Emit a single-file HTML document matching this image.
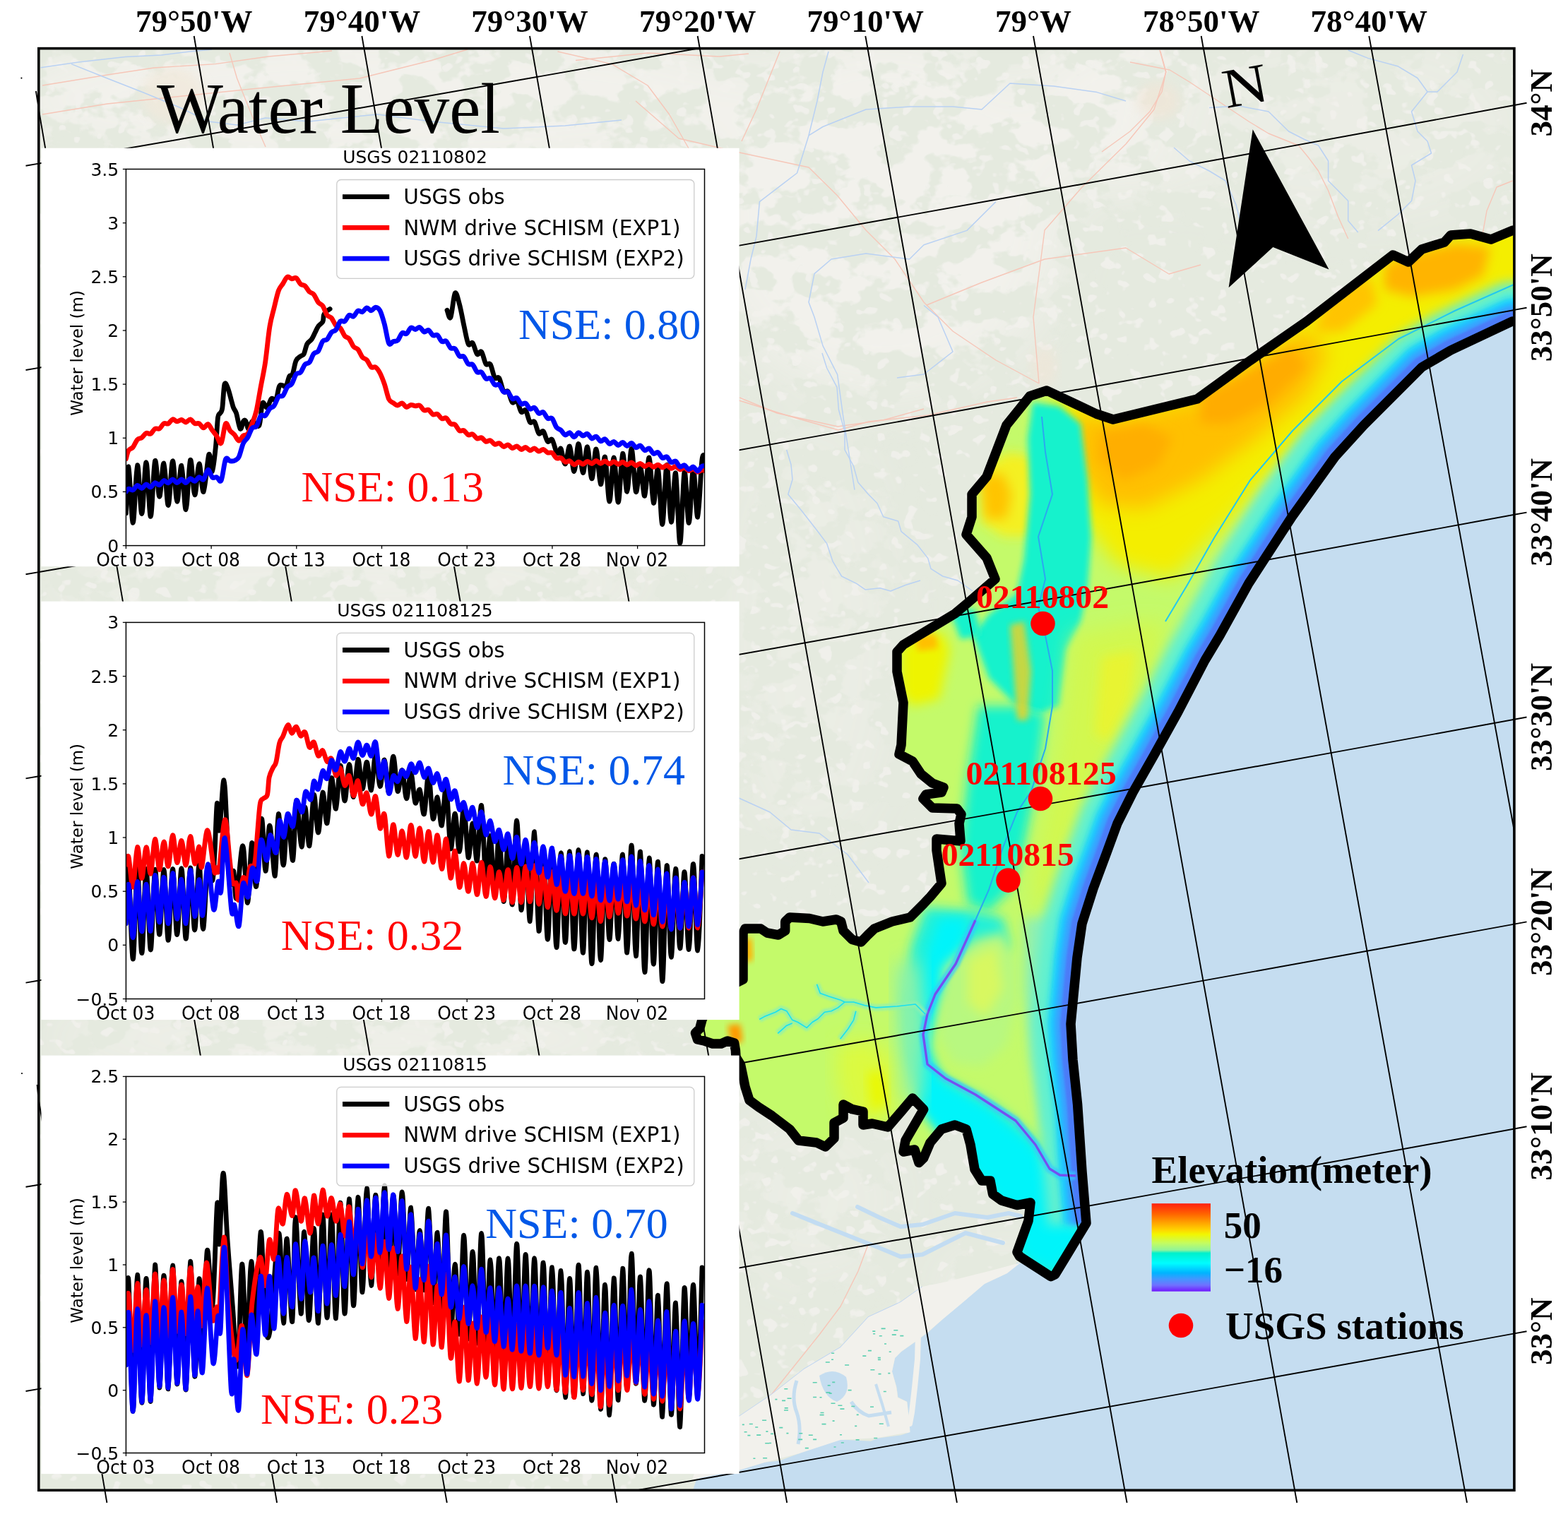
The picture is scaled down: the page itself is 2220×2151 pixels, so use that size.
<!DOCTYPE html>
<html><head><meta charset="utf-8"><title>Water Level</title>
<style>
html,body{margin:0;padding:0;background:#fff;}
svg{display:block;}
.tb{font-family:"Liberation Serif","Times New Roman",serif;font-weight:bold;}
.tr{font-family:"Liberation Serif","Times New Roman",serif;}
.dj{font-family:"DejaVu Sans","Liberation Sans",sans-serif;}
</style></head><body>
<svg xmlns="http://www.w3.org/2000/svg" width="2220" height="2151" viewBox="0 0 2220 2151">
<defs>
<clipPath id="mapclip"><rect x="54.8" y="68.6" width="2089.1" height="2041.7"/></clipPath>
<clipPath id="regclip"><path d="M2165.0 322.0 L2141.0 326.5 L2111.0 339.0 L2082.0 331.0 L2054.0 333.0 L2045.0 343.0 L2013.0 353.0 L1994.0 371.0 L1972.0 361.0 L1850.0 455.0 L1768.0 512.0 L1695.0 565.0 L1576.0 594.0 L1552.0 586.0 L1482.0 553.0 L1458.0 561.0 L1425.0 602.0 L1397.0 675.0 L1376.0 700.0 L1376.0 732.0 L1368.0 757.0 L1397.0 790.0 L1409.0 820.0 L1371.0 853.0 L1352.0 869.0 L1279.0 913.0 L1270.0 923.0 L1270.0 951.0 L1279.0 995.0 L1276.0 1055.0 L1273.0 1068.0 L1292.0 1078.0 L1304.0 1096.0 L1320.0 1109.0 L1336.0 1115.0 L1333.0 1122.0 L1311.0 1125.0 L1307.0 1131.0 L1320.0 1144.0 L1355.0 1145.0 L1361.0 1153.0 L1358.0 1166.0 L1360.0 1191.0 L1349.0 1190.0 L1326.0 1188.0 L1326.0 1204.0 L1333.0 1251.0 L1317.0 1270.0 L1307.6 1280.0 L1288.6 1299.0 L1263.0 1305.0 L1238.0 1315.0 L1228.6 1324.0 L1219.0 1334.0 L1206.5 1330.6 L1194.0 1318.0 L1190.7 1305.0 L1184.0 1302.0 L1165.0 1305.0 L1146.0 1300.5 L1118.0 1299.0 L1111.7 1305.0 L1111.7 1318.0 L1102.0 1324.0 L1086.0 1321.0 L1077.0 1315.0 L1055.0 1315.0 L1052.0 1321.0 L1052.0 1387.0 L1030.0 1398.0 L1005.0 1420.0 L994.0 1444.0 L990.6 1456.7 L984.5 1462.8 L987.5 1472.0 L996.7 1473.9 L1009.0 1478.0 L1021.0 1478.0 L1030.0 1473.9 L1039.6 1477.0 L1041.4 1487.3 L1042.0 1497.0 L1048.5 1507.5 L1055.0 1539.0 L1061.0 1558.0 L1074.0 1567.6 L1093.0 1580.0 L1118.0 1599.0 L1130.6 1615.0 L1156.0 1618.0 L1168.6 1624.0 L1181.0 1612.0 L1181.0 1590.0 L1194.0 1583.0 L1194.0 1564.0 L1206.5 1570.7 L1222.0 1574.0 L1222.0 1593.0 L1235.0 1591.0 L1257.0 1596.0 L1276.0 1574.0 L1292.0 1555.0 L1307.6 1571.0 L1282.0 1615.0 L1279.0 1631.0 L1295.0 1628.0 L1301.0 1646.6 L1307.6 1640.0 L1317.0 1618.0 L1333.0 1599.0 L1352.0 1593.0 L1368.0 1599.0 L1374.0 1621.0 L1380.0 1656.0 L1390.0 1672.0 L1402.0 1672.0 L1405.6 1691.0 L1418.0 1700.0 L1440.0 1706.6 L1459.0 1703.0 L1456.0 1728.7 L1440.0 1773.0 L1443.5 1779.0 L1487.7 1807.7 L1494.0 1804.6 L1538.0 1732.0 L1532.0 1659.0 L1525.6 1564.0 L1519.0 1501.0 L1516.0 1450.0 L1519.0 1419.0 L1525.0 1356.0 L1532.0 1308.0 L1548.0 1258.0 L1567.0 1207.0 L1582.0 1166.0 L1604.0 1122.0 L1633.0 1071.0 L1668.0 1008.0 L1706.0 935.0 L1727.0 900.0 L1768.0 826.0 L1829.0 732.0 L1890.0 647.0 L1931.0 602.0 L2013.0 520.0 L2054.0 496.0 L2141.0 455.0 L2165.0 458.0 Z"/></clipPath>
<filter id="blur8" x="-20%" y="-20%" width="140%" height="140%"><feGaussianBlur stdDeviation="8"/></filter>
<filter id="blur4" x="-20%" y="-20%" width="140%" height="140%"><feGaussianBlur stdDeviation="4"/></filter>
<filter id="blur14" x="-20%" y="-20%" width="140%" height="140%"><feGaussianBlur stdDeviation="14"/></filter>
<filter id="blur2" x="-20%" y="-20%" width="140%" height="140%"><feGaussianBlur stdDeviation="1.5"/></filter>
<filter id="landtex" x="0" y="0" width="100%" height="100%" color-interpolation-filters="sRGB">
<feTurbulence type="fractalNoise" baseFrequency="0.016 0.022" numOctaves="4" seed="11" result="n"/>
<feColorMatrix in="n" type="matrix" values="0 0 0 0 0.948  0 0 0 0 0.946  0 0 0 0 0.926  0 0 0 14 -6.6" result="c"/>
<feComposite in="c" in2="SourceGraphic" operator="in"/>
</filter>
<filter id="specktex" x="0" y="0" width="100%" height="100%" color-interpolation-filters="sRGB">
<feTurbulence type="fractalNoise" baseFrequency="0.05 0.06" numOctaves="2" seed="5" result="n"/>
<feColorMatrix in="n" type="matrix" values="0 0 0 0 0.94  0 0 0 0 0.94  0 0 0 0 0.92  0 0 0 12 -7.4" result="c"/>
<feComposite in="c" in2="SourceGraphic" operator="in"/>
</filter>
<filter id="blur40" x="-50%" y="-50%" width="200%" height="200%"><feGaussianBlur stdDeviation="40"/></filter>
<mask id="whitemask" maskUnits="userSpaceOnUse" x="0" y="0" width="2220" height="2151">
<rect x="0" y="0" width="2220" height="2151" fill="#000"/>
<g filter="url(#blur40)" fill="#fff">
<ellipse cx="550" cy="140" rx="560" ry="110"/>
<ellipse cx="1250" cy="300" rx="260" ry="260"/>
<ellipse cx="1600" cy="150" rx="150" ry="120"/>
<ellipse cx="1420" cy="1830" rx="80" ry="50"/>
<ellipse cx="500" cy="826" rx="450" ry="40"/>
<ellipse cx="500" cy="1470" rx="450" ry="40"/>
</g>
<g filter="url(#blur40)" fill="#777">
<ellipse cx="1900" cy="180" rx="260" ry="140"/>
<ellipse cx="1150" cy="900" rx="120" ry="300"/>
<ellipse cx="1150" cy="1700" rx="120" ry="120"/>
</g>
</mask>
<linearGradient id="cbar" x1="0" y1="0" x2="0" y2="1"><stop offset="0" stop-color="#ff2010"/><stop offset="0.12" stop-color="#ff6400"/><stop offset="0.22" stop-color="#ffa400"/><stop offset="0.3" stop-color="#ffd400"/><stop offset="0.35" stop-color="#f2f600"/><stop offset="0.45" stop-color="#c4fc60"/><stop offset="0.53" stop-color="#90f49a"/><stop offset="0.565" stop-color="#00f0cc"/><stop offset="0.68" stop-color="#00fcff"/><stop offset="0.79" stop-color="#00b4ff"/><stop offset="0.86" stop-color="#4496ff"/><stop offset="0.93" stop-color="#7070ff"/><stop offset="1" stop-color="#7018ff"/></linearGradient>
</defs>
<rect x="0" y="0" width="2220" height="2151" fill="#ffffff"/>
<g clip-path="url(#mapclip)">
<rect x="50" y="60" width="2110" height="2070" fill="#e5eadf"/>
<rect x="50" y="60" width="2110" height="2070" fill="#fff" filter="url(#specktex)"/>
<g mask="url(#whitemask)"><rect x="50" y="60" width="2110" height="2070" fill="#fff" filter="url(#landtex)"/></g>
<ellipse cx="245" cy="135" rx="45" ry="40" fill="#f1e9dc" opacity="0.8" filter="url(#blur8)"/>
<ellipse cx="1640" cy="143" rx="30" ry="26" fill="#f0e6d8" opacity="0.8" filter="url(#blur8)"/>
<ellipse cx="1478" cy="520" rx="18" ry="30" fill="#f0e6d8" opacity="0.7" filter="url(#blur8)"/>
<path d="M60.0 121.0 L152.0 106.0 L218.0 96.0 L305.0 90.6 L380.0 80.0 L470.0 72.0" fill="none" stroke="#f6c6b8" stroke-width="1.4" stroke-linejoin="round"/>
<path d="M60.0 162.0 L152.0 147.0 L254.0 136.5 L356.0 126.0 L509.0 111.0 L611.0 85.5 L662.0 70.0" fill="none" stroke="#f6c6b8" stroke-width="1.4" stroke-linejoin="round"/>
<path d="M325.0 75.0 L335.6 111.0 L356.0 162.0 L376.0 208.0" fill="none" stroke="#f6c6b8" stroke-width="1.4" stroke-linejoin="round"/>
<path d="M789.5 73.0 L866.0 90.6 L917.0 121.0 L947.6 162.0 L975.0 210.0" fill="none" stroke="#f6c6b8" stroke-width="1.4" stroke-linejoin="round"/>
<path d="M815.0 85.5 L917.0 75.0 L1019.0 80.0 L1060.0 76.0" fill="none" stroke="#f6c6b8" stroke-width="1.4" stroke-linejoin="round"/>
<path d="M900.0 143.0 L961.0 196.0 L1000.0 205.0 L1047.0 216.0 L1145.0 237.0 L1185.6 277.0 L1226.0 326.0 L1267.0 367.0 L1308.0 428.0 L1349.0 469.0 L1410.0 510.0 L1471.0 543.0" fill="none" stroke="#f6c6b8" stroke-width="1.4" stroke-linejoin="round"/>
<path d="M1471.0 543.0 L1463.0 449.0 L1471.0 388.0 L1479.0 326.0 L1532.0 265.0 L1594.0 204.0 L1634.0 155.0 L1651.0 102.0 L1643.0 73.0" fill="none" stroke="#f6c6b8" stroke-width="1.4" stroke-linejoin="round"/>
<path d="M1312.0 432.0 L1390.0 400.0 L1479.0 367.0 L1594.0 351.0 L1655.0 388.0 L1700.0 375.0" fill="none" stroke="#f6c6b8" stroke-width="1.4" stroke-linejoin="round"/>
<path d="M1047.0 563.0 L1100.0 585.0 L1186.0 604.0 L1250.0 595.0 L1308.0 579.0" fill="none" stroke="#f6c6b8" stroke-width="1.4" stroke-linejoin="round"/>
<path d="M1104.0 73.0 L1071.0 155.0 L1050.0 200.0" fill="none" stroke="#f6c6b8" stroke-width="1.4" stroke-linejoin="round"/>
<path d="M1600.0 88.0 L1656.0 99.0 L1684.0 116.0 L1726.0 144.0 L1768.0 172.0 L1796.0 189.0 L1838.5 206.0 L1852.5 223.0 L1866.6 242.0 L1880.6 270.0 L1894.6 307.0 L1908.7 338.0" fill="none" stroke="#f6c6b8" stroke-width="1.4" stroke-linejoin="round"/>
<path d="M1642.0 71.0 L1650.5 102.0 L1645.0 130.0 L1628.0 158.0 L1600.0 186.0 L1560.0 215.0" fill="none" stroke="#f6c6b8" stroke-width="1.4" stroke-linejoin="round"/>
<path d="M2141.6 256.0 L2119.0 265.0 L2105.0 298.5 L2099.5 329.0" fill="none" stroke="#f6c6b8" stroke-width="1.4" stroke-linejoin="round"/>
<path d="M1046.0 567.0 L1120.0 590.0 L1187.0 609.0 L1230.0 597.0 L1314.0 588.0 L1398.0 569.0 L1440.0 563.0" fill="none" stroke="#f6c6b8" stroke-width="1.4" stroke-linejoin="round"/>
<path d="M1046.0 2012.0 L1080.0 1990.0 L1120.0 1940.0 L1160.0 1890.0 L1190.0 1850.0 L1215.0 1800.0 L1230.0 1760.0" fill="none" stroke="#f6c6b8" stroke-width="1.4" stroke-linejoin="round"/>
<path d="M1046.0 1430.0 L1070.0 1400.0 L1100.0 1395.0" fill="none" stroke="#f6c6b8" stroke-width="1.4" stroke-linejoin="round"/>
<path d="M57.6 95.7 L111.0 88.0 L177.5 80.4 L228.5 78.0 L269.0 73.0 L300.0 70.0" fill="none" stroke="#b9d1f3" stroke-width="1.5" stroke-linejoin="round"/>
<path d="M101.0 90.6 L152.0 111.0 L203.0 131.0 L254.0 152.0 L295.0 172.0 L335.6 177.0 L376.0 167.0 L437.6 172.0 L483.5 167.0 L534.5 162.0 L611.0 172.0 L713.0 182.0 L800.0 178.0 L880.0 170.0" fill="none" stroke="#b9d1f3" stroke-width="1.5" stroke-linejoin="round"/>
<path d="M1594.0 143.0 L1553.0 130.6 L1492.0 122.0 L1430.0 118.0 L1390.0 155.0 L1349.0 151.0 L1288.0 151.0 L1226.0 155.0 L1186.0 171.0 L1165.0 179.5 L1145.0 191.8 L1157.0 143.0 L1165.0 102.0 L1173.0 73.0" fill="none" stroke="#b9d1f3" stroke-width="1.5" stroke-linejoin="round"/>
<path d="M1145.0 192.0 L1128.5 245.0 L1075.4 285.6 L1071.0 334.6 L1063.0 367.0 L1055.0 410.0" fill="none" stroke="#b9d1f3" stroke-width="1.5" stroke-linejoin="round"/>
<path d="M1410.0 285.6 L1369.0 326.4 L1308.0 346.8 L1287.6 367.0 L1226.0 359.0 L1177.0 367.0 L1153.0 387.6 L1145.0 428.0 L1153.0 449.0 L1165.0 489.6 L1185.6 530.4 L1194.0 591.6 L1210.0 693.6" fill="none" stroke="#b9d1f3" stroke-width="1.5" stroke-linejoin="round"/>
<path d="M1308.0 432.5 L1328.0 449.0 L1349.0 498.0 L1308.0 530.0 L1270.0 535.0" fill="none" stroke="#b9d1f3" stroke-width="1.5" stroke-linejoin="round"/>
<path d="M1164.0 500.0 L1170.6 521.0 L1185.0 548.4 L1187.4 580.0 L1196.0 611.6 L1196.0 637.0 L1208.5 660.0 L1214.8 683.0 L1229.5 700.0 L1242.0 712.7 L1250.6 731.7 L1271.7 738.0 L1276.0 752.7 L1299.0 771.7 L1313.8 790.6 L1318.0 805.4 L1334.8 816.0 L1356.0 822.0 L1377.0 837.0" fill="none" stroke="#b9d1f3" stroke-width="1.5" stroke-linejoin="round"/>
<path d="M1113.7 637.0 L1120.0 658.0 L1122.0 679.0 L1115.8 700.0 L1134.8 723.0 L1158.0 752.7 L1170.6 769.6 L1179.0 794.8 L1191.6 816.0 L1212.7 826.4 L1225.0 834.9 L1246.0 832.7 L1261.0 837.0 L1282.0 828.5 L1303.0 822.0" fill="none" stroke="#b9d1f3" stroke-width="1.5" stroke-linejoin="round"/>
<path d="M1662.0 209.0 L1684.0 228.0 L1712.0 242.0 L1735.0 256.0 L1750.0 290.0 L1760.0 330.0" fill="none" stroke="#b9d1f3" stroke-width="1.5" stroke-linejoin="round"/>
<path d="M1712.0 152.6 L1754.0 150.0 L1796.0 158.0 L1824.5 186.0 L1847.0 197.5 L1866.6 206.0 L1880.6 228.0 L1880.6 256.0 L1894.6 270.0 L1908.7 284.5 L1908.7 312.5 L1922.7 329.0" fill="none" stroke="#b9d1f3" stroke-width="1.5" stroke-linejoin="round"/>
<path d="M1908.7 71.0 L1936.7 82.4 L1978.8 93.7 L2006.9 110.5 L2021.0 130.0 L2035.0 130.0 L2063.0 102.0 L2071.4 77.0" fill="none" stroke="#b9d1f3" stroke-width="1.5" stroke-linejoin="round"/>
<path d="M2021.0 130.0 L1998.5 158.0 L2007.0 186.0 L2021.0 200.0 L2026.5 217.0 L1998.5 234.0 L2004.0 256.0 L1998.5 284.5 L1979.0 304.0 L1951.0 326.6" fill="none" stroke="#b9d1f3" stroke-width="1.5" stroke-linejoin="round"/>
<path d="M1046.0 1130.0 L1090.0 1150.0 L1120.0 1175.0 L1160.0 1180.0 L1200.0 1210.0 L1230.0 1250.0" fill="none" stroke="#b9d1f3" stroke-width="1.5" stroke-linejoin="round"/>
<path d="M1306.0 1822.0 L1275.0 1844.0 L1229.5 1865.0 L1190.0 1908.0 L1138.0 1939.0 L1092.0 1975.0 L1046.0 2006.0" fill="none" stroke="#b9d1f3" stroke-width="1.5" stroke-linejoin="round"/>
<path d="M1214.0 1709.0 L1245.0 1724.0 L1275.0 1737.0 L1306.0 1734.0 L1352.0 1718.0 L1398.0 1724.0 L1428.0 1718.0 L1445.0 1722.0" fill="none" stroke="#c2dcf2" stroke-width="6" stroke-linejoin="round" stroke-linecap="round"/>
<path d="M1122.0 1718.0 L1153.0 1730.6 L1184.0 1743.0 L1214.0 1755.0 L1245.0 1767.0 L1275.0 1779.6 L1306.0 1776.5 L1367.0 1746.0 L1420.0 1760.0" fill="none" stroke="#c2dcf2" stroke-width="6" stroke-linejoin="round" stroke-linecap="round"/>
<path d="M2165.0 458.0 L2141.0 455.0 L2054.0 496.0 L2013.0 520.0 L1931.0 602.0 L1890.0 647.0 L1829.0 732.0 L1768.0 826.0 L1727.0 900.0 L1706.0 935.0 L1668.0 1008.0 L1633.0 1071.0 L1604.0 1122.0 L1582.0 1166.0 L1567.0 1207.0 L1548.0 1258.0 L1532.0 1308.0 L1525.0 1356.0 L1519.0 1419.0 L1516.0 1450.0 L1519.0 1501.0 L1525.6 1564.0 L1532.0 1659.0 L1538.0 1732.0 L1530.0 1745.0 L1480.0 1792.0 L1440.0 1788.0 L1425.7 1802.9 L1393.6 1817.9 L1361.4 1845.7 L1335.7 1867.0 L1314.3 1886.4 L1297.2 1899.3 L1275.7 1914.3 L1267.2 1922.9 L1262.9 1942.2 L1269.3 1963.6 L1271.4 1978.6 L1284.3 1985.0 L1286.4 2002.2 L1288.6 2027.9 L1275.7 2032.2 L1243.6 2036.4 L1232.9 2040.7 L1190.0 2038.6 L1147.2 2047.2 L1132.1 2057.9 L1115.0 2064.3 L1104.3 2068.6 L1082.9 2070.7 L1061.4 2077.2 L1046.4 2081.4 L1000.0 2088.0 L986.0 2095.0 L978.0 2120.0 L2170.0 2120.0 L2170.0 440.0 Z" fill="#c5ddf0"/>
<path d="M1445.0 1788.0 L1400.0 1800.0 L1340.0 1815.0 L1306.0 1822.0 L1275.0 1844.0 L1229.5 1865.0 L1190.0 1908.0 L1138.0 1939.0 L1092.0 1975.0 L1046.0 2006.0 L1000.0 2040.0 L980.0 2095.0 L1046.0 2082.0 L1082.0 2071.0 L1132.0 2058.0 L1190.0 2039.0 L1243.0 2036.0 L1288.0 2028.0 L1286.0 2002.0 L1284.0 1985.0 L1271.0 1979.0 L1269.0 1964.0 L1263.0 1942.0 L1267.0 1923.0 L1276.0 1914.0 L1297.0 1899.0 L1314.0 1886.0 L1336.0 1867.0 L1361.0 1846.0 L1394.0 1818.0 L1426.0 1803.0 Z" fill="#f2f1ec"/>
<path d="M1300 1888 L1299 1925 L1295 1965 L1291 2000 L1288 2016" fill="none" stroke="#f2f1ec" stroke-width="8" stroke-linecap="round"/>
<path d="M1160 1948 Q1180 1935 1198 1950 Q1205 1975 1185 1985 Q1165 1978 1160 1948 Z" fill="#c5ddf0"/>
<path d="M1128 1955 Q1120 1980 1128 2000 Q1135 2020 1130 2045" fill="none" stroke="#c5ddf0" stroke-width="5"/>
<path d="M1205 1985 Q1215 2000 1230 2005 L1262 2000" fill="none" stroke="#c5ddf0" stroke-width="5"/>
<path d="M1240 1960 Q1250 1990 1258 2020" fill="none" stroke="#c5ddf0" stroke-width="4"/>
<path d="M1107.1 1983.4h5.0 M1189.4 1995.1h6.0 M1250.8 1970.5h4.0 M1053.6 2027.7h4.0 M1232.0 1992.3h5.0 M1237.2 2036.5h5.0 M1163.5 2016.6h6.0 M1144.8 2032.2h6.0 M1168.8 1929.0h6.0 M1151.1 2038.4h5.0 M1178.2 1957.4h4.0 M1089.1 2043.5h3.0 M1221.3 1920.1h5.0 M1071.2 2032.1h6.0 M1265.3 1883.8h6.0 M1060.8 2016.5h5.0 M1083.2 2043.7h6.0 M1160.5 1978.8h3.0 M1171.7 1961.9h4.0 M1131.3 2029.8h5.0 M1200.6 1968.6h5.0 M1196.1 1933.0h6.0 M1110.3 1966.7h5.0 M1113.4 2029.6h3.0 M1235.3 1885.1h4.0 M1242.9 1925.4h4.0 M1212.7 2003.4h3.0 M1130.1 2038.4h6.0 M1069.2 2021.0h4.0 M1177.1 1916.3h4.0 M1257.3 1944.6h3.0 M1243.5 1945.6h4.0 M1151.1 1978.5h5.0 M1161.5 2000.5h5.0 M1150.7 1957.8h6.0 M1103.3 2021.6h5.0 M1180.5 2049.0h3.0 M1058.4 2032.6h4.0 M1228.9 1912.6h5.0 M1080.1 2064.7h6.0 M1244.8 1891.7h4.0 M1097.4 1981.6h3.0 M1091.1 2030.4h4.0 M1247.6 1881.4h6.0 M1114.5 1980.2h6.0 M1236.1 1888.8h3.0 M1066.4 2065.2h3.0 M1173.7 1973.1h4.0 M1205.3 1991.5h5.0 M1050.8 2017.4h3.0 M1160.6 2003.6h6.0 M1262.8 1890.1h6.0 M1232.4 1939.8h6.0 M1178.6 2012.1h3.0 M1242.8 1922.6h4.0 M1139.8 2050.6h5.0 M1079.1 2011.2h6.0 M1210.2 2019.4h3.0 M1244.8 2016.2h6.0 M1084.4 2027.1h3.0 M1176.5 1987.2h6.0 M1252.0 1903.0h3.0 M1211.6 2038.9h5.0 M1189.0 2031.8h3.0 M1177.0 1925.3h3.0 M1274.3 1891.6h5.0 M1258.7 1914.3h3.0 M1110.0 1997.0h6.0 M1110.7 1993.9h5.0 M1186.4 1990.2h6.0 M1169.5 1971.9h6.0 M1190.8 2043.0h4.0" stroke="#5ccfb0" stroke-width="1.6" fill="none"/>
<g clip-path="url(#regclip)">
<rect x="950" y="300" width="1220" height="1540" fill="#c4fa6a"/>
<path d="M2170.0 300.0 L1972.0 350.0 L1850.0 440.0 L1700.0 545.0 L1580.0 580.0 L1500.0 560.0 L1470.0 600.0 L1520.0 720.0 L1580.0 800.0 L1660.0 820.0 L1740.0 740.0 L1820.0 650.0 L1900.0 580.0 L1990.0 520.0 L2080.0 480.0 L2170.0 455.0 Z" fill="#f4ee00" filter="url(#blur14)"/>
<path d="M1520.0 585.0 L1580.0 595.0 L1700.0 565.0 L1770.0 520.0 L1850.0 465.0 L1880.0 500.0 L1850.0 560.0 L1780.0 620.0 L1700.0 680.0 L1620.0 720.0 L1560.0 715.0 L1525.0 660.0 Z" fill="#ffc000" filter="url(#blur14)"/>
<path d="M1700.0 560.0 L1760.0 530.0 L1830.0 490.0 L1850.0 520.0 L1800.0 570.0 L1740.0 600.0 L1700.0 600.0 Z" fill="#ffac00" filter="url(#blur8)"/>
<path d="M1560.0 610.0 L1620.0 600.0 L1660.0 620.0 L1640.0 660.0 L1590.0 680.0 L1555.0 650.0 Z" fill="#ffae00" filter="url(#blur8)"/>
<path d="M1960.0 375.0 L2000.0 360.0 L2060.0 345.0 L2110.0 350.0 L2100.0 390.0 L2060.0 410.0 L2000.0 420.0 L1960.0 410.0 Z" fill="#ffb400" filter="url(#blur8)"/>
<path d="M1880.0 420.0 L1940.0 390.0 L1950.0 430.0 L1900.0 470.0 L1860.0 470.0 Z" fill="#ffc400" filter="url(#blur8)"/>
<path d="M2170.0 425.0 L2080.0 450.0 L2000.0 490.0 L1920.0 545.0 L1850.0 610.0 L1790.0 690.0 L1740.0 770.0 L1700.0 850.0 L1680.0 880.0 L1700.0 885.0 L1730.0 840.0 L1775.0 770.0 L1830.0 700.0 L1895.0 630.0 L1970.0 570.0 L2060.0 515.0 L2170.0 480.0 Z" fill="#98f0a8" filter="url(#blur8)"/>
<path d="M1392.0 660.0 L1430.0 640.0 L1470.0 650.0 L1480.0 700.0 L1470.0 760.0 L1420.0 760.0 L1390.0 740.0 Z" fill="#f4f020" filter="url(#blur8)"/>
<path d="M1388.0 675.0 L1420.0 670.0 L1432.0 700.0 L1425.0 735.0 L1395.0 735.0 Z" fill="#ffc400" filter="url(#blur8)"/>
<path d="M1462.0 570.0 L1500.0 575.0 L1530.0 600.0 L1540.0 680.0 L1545.0 760.0 L1540.0 830.0 L1530.0 880.0 L1510.0 920.0 L1500.0 1000.0 L1470.0 1010.0 L1440.0 1000.0 L1400.0 960.0 L1378.0 900.0 L1400.0 870.0 L1440.0 840.0 L1450.0 790.0 L1458.0 700.0 L1455.0 620.0 Z" fill="#14f2cc" filter="url(#blur4)"/>
<path d="M1345.0 865.0 L1380.0 862.0 L1390.0 900.0 L1360.0 905.0 Z" fill="#14f2cc" filter="url(#blur4)"/>
<path d="M1276.0 915.0 L1300.0 900.0 L1335.0 895.0 L1345.0 920.0 L1330.0 990.0 L1290.0 1000.0 L1276.0 980.0 Z" fill="#eef400" filter="url(#blur8)"/>
<path d="M1295.0 900.0 L1325.0 898.0 L1328.0 918.0 L1300.0 922.0 Z" fill="#ffc000" filter="url(#blur4)"/>
<path d="M1385.0 1000.0 L1440.0 1000.0 L1480.0 1010.0 L1470.0 1100.0 L1450.0 1200.0 L1430.0 1260.0 L1400.0 1290.0 L1370.0 1280.0 L1360.0 1200.0 L1370.0 1100.0 Z" fill="#14f2cc" filter="url(#blur8)"/>
<path d="M1430.0 885.0 L1450.0 880.0 L1460.0 950.0 L1455.0 1020.0 L1440.0 1020.0 L1435.0 950.0 Z" fill="#f0d020" filter="url(#blur4)" opacity="0.80"/>
<path d="M1520.0 900.0 L1600.0 880.0 L1650.0 880.0 L1640.0 960.0 L1600.0 1040.0 L1560.0 1120.0 L1530.0 1200.0 L1500.0 1280.0 L1470.0 1300.0 L1460.0 1250.0 L1480.0 1150.0 L1500.0 1050.0 Z" fill="#d2f850" filter="url(#blur14)"/>
<path d="M1560.0 930.0 L1610.0 920.0 L1600.0 990.0 L1570.0 1050.0 L1550.0 1040.0 L1555.0 980.0 Z" fill="#e8f430" filter="url(#blur8)"/>
<path d="M1310.0 1285.0 L1380.0 1290.0 L1420.0 1300.0 L1430.0 1340.0 L1400.0 1380.0 L1330.0 1410.0 L1310.0 1450.0 L1310.0 1500.0 L1340.0 1530.0 L1400.0 1560.0 L1440.0 1590.0 L1470.0 1620.0 L1490.0 1660.0 L1510.0 1680.0 L1530.0 1690.0 L1540.0 1760.0 L1500.0 1820.0 L1440.0 1790.0 L1420.0 1720.0 L1390.0 1680.0 L1370.0 1650.0 L1330.0 1600.0 L1300.0 1560.0 L1285.0 1500.0 L1280.0 1420.0 L1290.0 1340.0 Z" fill="#20f0d8" filter="url(#blur8)"/>
<path d="M1330.0 1300.0 L1370.0 1300.0 L1360.0 1360.0 L1330.0 1420.0 L1315.0 1480.0 L1330.0 1530.0 L1400.0 1570.0 L1460.0 1620.0 L1500.0 1680.0 L1520.0 1700.0 L1530.0 1760.0 L1490.0 1800.0 L1450.0 1780.0 L1430.0 1720.0 L1400.0 1680.0 L1350.0 1630.0 L1305.0 1570.0 L1295.0 1500.0 L1300.0 1410.0 L1315.0 1340.0 Z" fill="#00f4fa" filter="url(#blur8)"/>
<path d="M1335.0 1370.0 L1380.0 1330.0 L1420.0 1320.0 L1440.0 1360.0 L1440.0 1420.0 L1425.0 1480.0 L1390.0 1510.0 L1350.0 1505.0 L1330.0 1470.0 Z" fill="#b8f880" filter="url(#blur8)"/>
<path d="M1370.0 1360.0 L1410.0 1340.0 L1420.0 1400.0 L1395.0 1440.0 L1370.0 1420.0 Z" fill="#d8f860" filter="url(#blur8)"/>
<path d="M1450.0 1300.0 L1500.0 1300.0 L1510.0 1400.0 L1505.0 1500.0 L1500.0 1600.0 L1480.0 1600.0 L1460.0 1500.0 L1450.0 1400.0 Z" fill="#90f0b0" filter="url(#blur8)"/>
<path d="M1185.0 1480.0 L1230.0 1470.0 L1268.0 1500.0 L1268.0 1575.0 L1240.0 1590.0 L1200.0 1580.0 L1185.0 1530.0 Z" fill="#dcfa40" filter="url(#blur14)"/>
<path d="M1228.0 1520.0 L1250.0 1515.0 L1256.0 1560.0 L1235.0 1575.0 Z" fill="#eaf800" filter="url(#blur8)"/>
<path d="M1267.0 1365.0 L1300.0 1360.0 L1310.0 1450.0 L1305.0 1560.0 L1280.0 1560.0 L1270.0 1450.0 Z" fill="#90f2a8" filter="url(#blur14)"/>
<path d="M1030.0 1452.0 L1048.0 1450.0 L1052.0 1475.0 L1035.0 1478.0 Z" fill="#ff9a00" filter="url(#blur4)"/>
<path d="M1052.0 1330.0 L1064.0 1328.0 L1066.0 1360.0 L1054.0 1362.0 Z" fill="#ffb000" filter="url(#blur4)"/>
<path d="M2165.0 458.0 L2141.0 455.0 L2054.0 496.0 L2013.0 520.0 L1931.0 602.0 L1890.0 647.0 L1829.0 732.0 L1768.0 826.0 L1727.0 900.0 L1706.0 935.0 L1668.0 1008.0 L1633.0 1071.0 L1604.0 1122.0 L1582.0 1166.0 L1567.0 1207.0 L1548.0 1258.0 L1532.0 1308.0 L1525.0 1356.0 L1519.0 1419.0 L1516.0 1450.0 L1519.0 1501.0 L1525.6 1564.0 L1532.0 1659.0 L1538.0 1732.0" fill="none" stroke="#60f0d0" stroke-width="110" stroke-linejoin="round" filter="url(#blur8)"/>
<path d="M2165.0 458.0 L2141.0 455.0 L2054.0 496.0 L2013.0 520.0 L1931.0 602.0 L1890.0 647.0 L1829.0 732.0 L1768.0 826.0 L1727.0 900.0 L1706.0 935.0 L1668.0 1008.0 L1633.0 1071.0 L1604.0 1122.0 L1582.0 1166.0 L1567.0 1207.0 L1548.0 1258.0 L1532.0 1308.0 L1525.0 1356.0 L1519.0 1419.0 L1516.0 1450.0 L1519.0 1501.0 L1525.6 1564.0 L1532.0 1659.0 L1538.0 1732.0" fill="none" stroke="#18d0ff" stroke-width="66" stroke-linejoin="round" filter="url(#blur4)"/>
<path d="M2165.0 458.0 L2141.0 455.0 L2054.0 496.0 L2013.0 520.0 L1931.0 602.0 L1890.0 647.0 L1829.0 732.0 L1768.0 826.0 L1727.0 900.0 L1706.0 935.0 L1668.0 1008.0 L1633.0 1071.0 L1604.0 1122.0 L1582.0 1166.0 L1567.0 1207.0 L1548.0 1258.0 L1532.0 1308.0 L1525.0 1356.0 L1519.0 1419.0 L1516.0 1450.0 L1519.0 1501.0 L1525.6 1564.0 L1532.0 1659.0 L1538.0 1732.0" fill="none" stroke="#3c9cff" stroke-width="46" stroke-linejoin="round" filter="url(#blur4)"/>
<path d="M2165.0 458.0 L2141.0 455.0 L2054.0 496.0 L2013.0 520.0 L1931.0 602.0 L1890.0 647.0 L1829.0 732.0 L1768.0 826.0 L1727.0 900.0 L1706.0 935.0 L1668.0 1008.0 L1633.0 1071.0 L1604.0 1122.0 L1582.0 1166.0 L1567.0 1207.0 L1548.0 1258.0 L1532.0 1308.0 L1525.0 1356.0 L1519.0 1419.0 L1516.0 1450.0 L1519.0 1501.0 L1525.6 1564.0 L1532.0 1659.0 L1538.0 1732.0" fill="none" stroke="#4c7cf8" stroke-width="30" stroke-linejoin="round" filter="url(#blur2)"/>
<path d="M1381.0 1303.0 L1353.0 1365.0 L1324.0 1408.0 L1313.0 1436.0 L1307.0 1465.0 L1313.0 1507.0 L1338.5 1527.0 L1381.0 1550.0 L1438.0 1587.0 L1466.0 1621.0 L1486.0 1655.0 L1500.6 1664.0 L1523.0 1665.0" fill="none" stroke="#30c8ff" stroke-width="12" stroke-linejoin="round" opacity="0.7" filter="url(#blur2)"/>
<path d="M1381.0 1303.0 L1353.0 1365.0 L1324.0 1408.0 L1313.0 1436.0 L1307.0 1465.0 L1313.0 1507.0 L1338.5 1527.0 L1381.0 1550.0 L1438.0 1587.0 L1466.0 1621.0 L1486.0 1655.0 L1500.6 1664.0 L1523.0 1665.0" fill="none" stroke="#7450f0" stroke-width="3.4" stroke-linejoin="round"/>
<path d="M1075.1 1443.5 L1082.2 1439.6 L1098.0 1433.3 L1105.9 1428.5 L1113.8 1431.7 L1121.7 1444.3 L1129.6 1447.5 L1142.2 1455.4 L1150.1 1447.5 L1158.0 1442.7 L1167.5 1433.3 L1177.0 1431.7 L1186.5 1426.9 L1196.0 1419.0 L1208.6 1419.0 L1224.4 1423.8 L1240.0 1426.9 L1270.0 1425.0 L1296.0 1422.0 L1310.0 1436.0" fill="none" stroke="#90f0b0" stroke-width="9" stroke-linejoin="round" opacity="0.8" filter="url(#blur2)"/>
<path d="M1156.5 1393.8 L1161.2 1406.4 L1173.8 1411.1 L1189.6 1415.9 L1196.0 1419.0" fill="none" stroke="#90f0b0" stroke-width="9" stroke-linejoin="round" opacity="0.8" filter="url(#blur2)"/>
<path d="M1101.2 1463.3 L1113.8 1452.2 L1121.7 1449.1" fill="none" stroke="#90f0b0" stroke-width="9" stroke-linejoin="round" opacity="0.8" filter="url(#blur2)"/>
<path d="M1189.6 1471.2 L1200.7 1457.0 L1208.6 1444.3 L1211.8 1431.7" fill="none" stroke="#90f0b0" stroke-width="9" stroke-linejoin="round" opacity="0.8" filter="url(#blur2)"/>
<path d="M1075.1 1443.5 L1082.2 1439.6 L1098.0 1433.3 L1105.9 1428.5 L1113.8 1431.7 L1121.7 1444.3 L1129.6 1447.5 L1142.2 1455.4 L1150.1 1447.5 L1158.0 1442.7 L1167.5 1433.3 L1177.0 1431.7 L1186.5 1426.9 L1196.0 1419.0 L1208.6 1419.0 L1224.4 1423.8 L1240.0 1426.9 L1270.0 1425.0 L1296.0 1422.0 L1310.0 1436.0" fill="none" stroke="#18e0f0" stroke-width="1.6" stroke-linejoin="round"/>
<path d="M1156.5 1393.8 L1161.2 1406.4 L1173.8 1411.1 L1189.6 1415.9 L1196.0 1419.0" fill="none" stroke="#18e0f0" stroke-width="1.6" stroke-linejoin="round"/>
<path d="M1101.2 1463.3 L1113.8 1452.2 L1121.7 1449.1" fill="none" stroke="#18e0f0" stroke-width="1.6" stroke-linejoin="round"/>
<path d="M1189.6 1471.2 L1200.7 1457.0 L1208.6 1444.3 L1211.8 1431.7" fill="none" stroke="#18e0f0" stroke-width="1.6" stroke-linejoin="round"/>
<path d="M1381.0 1303.0 L1400.0 1260.0 L1420.0 1200.0 L1440.0 1150.0 L1460.0 1120.0 L1480.0 1060.0 L1490.0 1000.0 L1490.0 950.0 L1480.0 900.0 L1470.0 860.0 L1480.0 820.0 L1470.0 760.0 L1490.0 700.0 L1480.0 640.0 L1475.0 590.0" fill="none" stroke="#2aa8f0" stroke-width="2" stroke-linejoin="round"/>
<path d="M2150.0 400.0 L2060.0 440.0 L1980.0 480.0 L1900.0 540.0 L1830.0 610.0 L1770.0 680.0 L1720.0 760.0 L1680.0 830.0 L1650.0 880.0" fill="none" stroke="#22c8f0" stroke-width="2" stroke-linejoin="round"/>
</g>
<path d="M2165.0 322.0 L2141.0 326.5 L2111.0 339.0 L2082.0 331.0 L2054.0 333.0 L2045.0 343.0 L2013.0 353.0 L1994.0 371.0 L1972.0 361.0 L1850.0 455.0 L1768.0 512.0 L1695.0 565.0 L1576.0 594.0 L1552.0 586.0 L1482.0 553.0 L1458.0 561.0 L1425.0 602.0 L1397.0 675.0 L1376.0 700.0 L1376.0 732.0 L1368.0 757.0 L1397.0 790.0 L1409.0 820.0 L1371.0 853.0 L1352.0 869.0 L1279.0 913.0 L1270.0 923.0 L1270.0 951.0 L1279.0 995.0 L1276.0 1055.0 L1273.0 1068.0 L1292.0 1078.0 L1304.0 1096.0 L1320.0 1109.0 L1336.0 1115.0 L1333.0 1122.0 L1311.0 1125.0 L1307.0 1131.0 L1320.0 1144.0 L1355.0 1145.0 L1361.0 1153.0 L1358.0 1166.0 L1360.0 1191.0 L1349.0 1190.0 L1326.0 1188.0 L1326.0 1204.0 L1333.0 1251.0 L1317.0 1270.0 L1307.6 1280.0 L1288.6 1299.0 L1263.0 1305.0 L1238.0 1315.0 L1228.6 1324.0 L1219.0 1334.0 L1206.5 1330.6 L1194.0 1318.0 L1190.7 1305.0 L1184.0 1302.0 L1165.0 1305.0 L1146.0 1300.5 L1118.0 1299.0 L1111.7 1305.0 L1111.7 1318.0 L1102.0 1324.0 L1086.0 1321.0 L1077.0 1315.0 L1055.0 1315.0 L1052.0 1321.0 L1052.0 1387.0 L1030.0 1398.0 L1005.0 1420.0 L994.0 1444.0 L990.6 1456.7 L984.5 1462.8 L987.5 1472.0 L996.7 1473.9 L1009.0 1478.0 L1021.0 1478.0 L1030.0 1473.9 L1039.6 1477.0 L1041.4 1487.3 L1042.0 1497.0 L1048.5 1507.5 L1055.0 1539.0 L1061.0 1558.0 L1074.0 1567.6 L1093.0 1580.0 L1118.0 1599.0 L1130.6 1615.0 L1156.0 1618.0 L1168.6 1624.0 L1181.0 1612.0 L1181.0 1590.0 L1194.0 1583.0 L1194.0 1564.0 L1206.5 1570.7 L1222.0 1574.0 L1222.0 1593.0 L1235.0 1591.0 L1257.0 1596.0 L1276.0 1574.0 L1292.0 1555.0 L1307.6 1571.0 L1282.0 1615.0 L1279.0 1631.0 L1295.0 1628.0 L1301.0 1646.6 L1307.6 1640.0 L1317.0 1618.0 L1333.0 1599.0 L1352.0 1593.0 L1368.0 1599.0 L1374.0 1621.0 L1380.0 1656.0 L1390.0 1672.0 L1402.0 1672.0 L1405.6 1691.0 L1418.0 1700.0 L1440.0 1706.6 L1459.0 1703.0 L1456.0 1728.7 L1440.0 1773.0 L1443.5 1779.0 L1487.7 1807.7 L1494.0 1804.6 L1538.0 1732.0 L1532.0 1659.0 L1525.6 1564.0 L1519.0 1501.0 L1516.0 1450.0 L1519.0 1419.0 L1525.0 1356.0 L1532.0 1308.0 L1548.0 1258.0 L1567.0 1207.0 L1582.0 1166.0 L1604.0 1122.0 L1633.0 1071.0 L1668.0 1008.0 L1706.0 935.0 L1727.0 900.0 L1768.0 826.0 L1829.0 732.0 L1890.0 647.0 L1931.0 602.0 L2013.0 520.0 L2054.0 496.0 L2141.0 455.0 L2165.0 458.0 Z" fill="none" stroke="#000" stroke-width="13.5" stroke-linejoin="round" stroke-linecap="round"/>
<line x1="-200.6" y1="51.0" x2="151.4" y2="2128.0" stroke="#000" stroke-width="1.9"/>
<line x1="37.0" y1="51.0" x2="392.1" y2="2128.0" stroke="#000" stroke-width="1.9"/>
<line x1="274.7" y1="51.0" x2="632.8" y2="2128.0" stroke="#000" stroke-width="1.9"/>
<line x1="512.4" y1="51.0" x2="873.5" y2="2128.0" stroke="#000" stroke-width="1.9"/>
<line x1="750.0" y1="51.0" x2="1114.2" y2="2128.0" stroke="#000" stroke-width="1.9"/>
<line x1="987.7" y1="51.0" x2="1354.9" y2="2128.0" stroke="#000" stroke-width="1.9"/>
<line x1="1225.3" y1="51.0" x2="1595.6" y2="2128.0" stroke="#000" stroke-width="1.9"/>
<line x1="1463.0" y1="51.0" x2="1836.3" y2="2128.0" stroke="#000" stroke-width="1.9"/>
<line x1="1700.7" y1="51.0" x2="2077.0" y2="2128.0" stroke="#000" stroke-width="1.9"/>
<line x1="1938.3" y1="51.0" x2="2317.7" y2="2128.0" stroke="#000" stroke-width="1.9"/>
<path d="M36.5 234.8 Q1099.0 52.4 2161.5 -144.1" fill="none" stroke="#000" stroke-width="1.9"/>
<path d="M36.5 524.0 Q1099.0 341.9 2161.5 145.8" fill="none" stroke="#000" stroke-width="1.9"/>
<path d="M36.5 813.2 Q1099.0 631.5 2161.5 435.7" fill="none" stroke="#000" stroke-width="1.9"/>
<path d="M36.5 1102.4 Q1099.0 921.0 2161.5 725.6" fill="none" stroke="#000" stroke-width="1.9"/>
<path d="M36.5 1391.6 Q1099.0 1210.5 2161.5 1015.5" fill="none" stroke="#000" stroke-width="1.9"/>
<path d="M36.5 1680.8 Q1099.0 1500.1 2161.5 1305.4" fill="none" stroke="#000" stroke-width="1.9"/>
<path d="M36.5 1970.0 Q1099.0 1789.7 2161.5 1595.3" fill="none" stroke="#000" stroke-width="1.9"/>
<path d="M36.5 2259.2 Q1099.0 2079.2 2161.5 1885.2" fill="none" stroke="#000" stroke-width="1.9"/>
<circle cx="1476.5" cy="883.0" r="17.3" fill="#ff0000"/>
<text class="tb" x="0" y="0" font-size="46" fill="#ff0000" textLength="188.0" lengthAdjust="spacingAndGlyphs" transform="translate(1382.0,861.0) scale(1,1.000)">02110802</text>
<circle cx="1473.0" cy="1131.0" r="17.3" fill="#ff0000"/>
<text class="tb" x="0" y="0" font-size="46" fill="#ff0000" textLength="213.3" lengthAdjust="spacingAndGlyphs" transform="translate(1367.5,1110.7) scale(1,1.000)">021108125</text>
<circle cx="1427.5" cy="1246.6" r="17.3" fill="#ff0000"/>
<text class="tb" x="0" y="0" font-size="46" fill="#ff0000" textLength="188.0" lengthAdjust="spacingAndGlyphs" transform="translate(1332.7,1226.0) scale(1,1.000)">02110815</text>
</g>
<g stroke="#000" stroke-width="1.9">
<line x1="274.7" y1="51" x2="277.7" y2="68.6"/>
<line x1="512.4" y1="51" x2="515.4" y2="68.6"/>
<line x1="750.0" y1="51" x2="753.1" y2="68.6"/>
<line x1="987.7" y1="51" x2="990.8" y2="68.6"/>
<line x1="1225.3" y1="51" x2="1228.5" y2="68.6"/>
<line x1="1463.0" y1="51" x2="1466.2" y2="68.6"/>
<line x1="1700.7" y1="51" x2="1703.8" y2="68.6"/>
<line x1="1938.3" y1="51" x2="1941.5" y2="68.6"/>
<line x1="148.4" y1="2110.3" x2="151.4" y2="2128"/>
<line x1="389.1" y1="2110.3" x2="392.1" y2="2128"/>
<line x1="629.7" y1="2110.3" x2="632.8" y2="2128"/>
<line x1="870.4" y1="2110.3" x2="873.5" y2="2128"/>
<line x1="1111.1" y1="2110.3" x2="1114.2" y2="2128"/>
<line x1="1351.8" y1="2110.3" x2="1354.9" y2="2128"/>
<line x1="1592.4" y1="2110.3" x2="1595.6" y2="2128"/>
<line x1="1833.1" y1="2110.3" x2="1836.3" y2="2128"/>
<line x1="2073.8" y1="2110.3" x2="2077.0" y2="2128"/>
<line x1="36.5" y1="234.8" x2="54.8" y2="231.6"/>
<line x1="36.5" y1="524.0" x2="54.8" y2="520.9"/>
<line x1="36.5" y1="813.2" x2="54.8" y2="810.1"/>
<line x1="36.5" y1="1102.4" x2="54.8" y2="1099.3"/>
<line x1="36.5" y1="1391.6" x2="54.8" y2="1388.5"/>
<line x1="36.5" y1="1680.8" x2="54.8" y2="1677.7"/>
<line x1="36.5" y1="1970.0" x2="54.8" y2="1966.9"/>
<line x1="2143.9" y1="149.0" x2="2161.5" y2="145.8"/>
<line x1="2143.9" y1="438.9" x2="2161.5" y2="435.7"/>
<line x1="2143.9" y1="728.8" x2="2161.5" y2="725.6"/>
<line x1="2143.9" y1="1018.7" x2="2161.5" y2="1015.5"/>
<line x1="2143.9" y1="1308.6" x2="2161.5" y2="1305.4"/>
<line x1="2143.9" y1="1598.5" x2="2161.5" y2="1595.3"/>
<line x1="2143.9" y1="1888.4" x2="2161.5" y2="1885.2"/>
</g>
<line x1="50.9" y1="129" x2="55" y2="155" stroke="#000" stroke-width="1.9"/>
<line x1="52.6" y1="1536" x2="55" y2="1562" stroke="#000" stroke-width="1.9"/>
<circle cx="30.4" cy="110.6" r="1.1" fill="#000"/>
<circle cx="31.0" cy="1520" r="1.1" fill="#000"/>
<rect x="54.8" y="68.6" width="2089.1" height="2041.7" fill="none" stroke="#000" stroke-width="3.6"/>
<text class="tb" x="0" y="0" font-size="45" text-anchor="middle" transform="translate(274.7,45.3) scale(1,1.000)">79°50'W</text>
<text class="tb" x="0" y="0" font-size="45" text-anchor="middle" transform="translate(512.4,45.3) scale(1,1.000)">79°40'W</text>
<text class="tb" x="0" y="0" font-size="45" text-anchor="middle" transform="translate(750.0,45.3) scale(1,1.000)">79°30'W</text>
<text class="tb" x="0" y="0" font-size="45" text-anchor="middle" transform="translate(987.7,45.3) scale(1,1.000)">79°20'W</text>
<text class="tb" x="0" y="0" font-size="45" text-anchor="middle" transform="translate(1225.3,45.3) scale(1,1.000)">79°10'W</text>
<text class="tb" x="0" y="0" font-size="45" text-anchor="middle" transform="translate(1463.0,45.3) scale(1,1.000)">79°W</text>
<text class="tb" x="0" y="0" font-size="45" text-anchor="middle" transform="translate(1700.7,45.3) scale(1,1.000)">78°50'W</text>
<text class="tb" x="0" y="0" font-size="45" text-anchor="middle" transform="translate(1938.3,45.3) scale(1,1.000)">78°40'W</text>
<text class="tb" x="0" y="0" font-size="45" text-anchor="middle" transform="translate(2197,145.8) rotate(-90) scale(1,1.000)">34°N</text>
<text class="tb" x="0" y="0" font-size="45" text-anchor="middle" transform="translate(2197,435.7) rotate(-90) scale(1,1.000)">33°50'N</text>
<text class="tb" x="0" y="0" font-size="45" text-anchor="middle" transform="translate(2197,725.6) rotate(-90) scale(1,1.000)">33°40'N</text>
<text class="tb" x="0" y="0" font-size="45" text-anchor="middle" transform="translate(2197,1015.5) rotate(-90) scale(1,1.000)">33°30'N</text>
<text class="tb" x="0" y="0" font-size="45" text-anchor="middle" transform="translate(2197,1305.4) rotate(-90) scale(1,1.000)">33°20'N</text>
<text class="tb" x="0" y="0" font-size="45" text-anchor="middle" transform="translate(2197,1595.3) rotate(-90) scale(1,1.000)">33°10'N</text>
<text class="tb" x="0" y="0" font-size="45" text-anchor="middle" transform="translate(2197,1885.2) rotate(-90) scale(1,1.000)">33°N</text>
<text class="tr" x="0" y="0" font-size="101" textLength="486" lengthAdjust="spacingAndGlyphs" transform="translate(222,188.0) scale(1,1.000)">Water Level</text>
<path d="M1773.7 183.3 L1881.5 381.5 L1802.3 350.1 L1739.6 407.3 Z" fill="#000"/>
<text class="tr" x="0" y="0" font-size="79" text-anchor="middle" transform="translate(1767.5,147.5) rotate(-10.5) scale(1.11,1) scale(1,1.000)">N</text>
<text class="tb" x="0" y="0" font-size="55" transform="translate(1630.6,1674.8) scale(1,1.000)">Elevation(meter)</text>
<rect x="1630.6" y="1704.2" width="83.4" height="124.5" fill="url(#cbar)"/>
<text class="tb" x="0" y="0" font-size="53" transform="translate(1732.7,1752.7) scale(1,1.000)">50</text>
<text class="tb" x="0" y="0" font-size="53" transform="translate(1732.7,1816.4) scale(1,1.000)">−16</text>
<circle cx="1672" cy="1877" r="17.3" fill="#ff0000"/>
<text class="tb" x="0" y="0" font-size="55" transform="translate(1735,1895.5) scale(1,1.000)">USGS stations</text>
<rect x="58.5" y="209.7" width="988.1" height="592.5" fill="#fff"/>
<clipPath id="pc0"><rect x="178.4" y="239.5" width="819.1" height="533.1"/></clipPath>
<g clip-path="url(#pc0)" fill="none" stroke-width="6.8" stroke-linejoin="round" stroke-linecap="round">
<path d="M178.4 726.9 C179.0 715.9 180.4 658.6 182.0 660.8 C183.7 663.0 186.2 740.7 188.3 740.4 C190.3 740.0 192.4 660.8 194.5 658.7 C196.6 656.5 198.7 728.2 200.8 727.5 C202.8 726.8 204.9 654.1 207.0 654.8 C209.1 655.4 211.2 731.8 213.3 731.4 C215.3 731.1 217.4 657.3 219.5 652.6 C221.6 647.9 223.7 702.6 225.7 703.2 C227.8 703.7 229.9 654.0 232.0 656.1 C234.1 658.2 236.2 716.1 238.2 715.6 C240.3 715.1 242.4 653.7 244.5 652.8 C246.6 651.9 248.6 709.1 250.7 710.2 C252.8 711.3 254.9 657.3 257.0 659.2 C259.1 661.1 261.1 723.1 263.2 721.7 C265.3 720.4 267.4 654.8 269.5 651.3 C271.6 647.8 273.6 699.8 275.7 700.8 C277.8 701.7 279.9 657.4 282.0 656.7 C284.0 656.0 285.9 698.6 288.2 696.5 C290.5 694.3 293.7 648.6 295.7 643.7 C297.8 638.9 298.9 669.4 300.5 667.5 C302.2 665.6 304.0 645.2 305.4 632.5 C306.7 619.8 307.5 599.2 308.5 591.3 C309.6 583.5 310.6 587.5 311.7 585.3 C312.7 583.0 313.7 584.5 314.8 577.6 C315.8 570.8 316.6 548.7 317.9 544.1 C319.3 539.6 321.2 546.5 322.8 550.2 C324.3 553.9 326.1 561.7 327.3 566.2 C328.6 570.7 329.3 574.2 330.5 577.3 C331.7 580.5 333.0 580.3 334.6 585.3 C336.2 590.3 338.4 605.5 340.1 607.3 C341.8 609.2 343.4 598.1 344.7 596.2 C346.0 594.4 346.7 594.4 347.9 596.2 C349.1 598.1 350.4 607.3 352.0 607.3 C353.6 607.3 355.0 597.0 357.5 596.2 C360.0 595.4 364.6 606.8 366.9 602.6 C369.3 598.4 369.7 575.1 371.5 570.9 C373.4 566.7 375.9 578.4 378.0 577.3 C380.2 576.3 382.2 566.4 384.3 564.5 C386.4 562.7 388.7 569.1 390.6 566.2 C392.4 563.3 393.8 550.6 395.4 547.2 C397.0 543.7 398.4 545.7 400.0 545.7 C401.6 545.7 403.2 549.3 404.8 547.2 C406.4 545.1 408.1 535.9 409.7 533.0 C411.2 530.1 412.7 533.5 414.2 529.8 C415.8 526.1 417.2 515.0 419.1 510.8 C420.9 506.6 423.5 506.1 425.4 504.5 C427.2 503.0 428.6 504.2 430.2 501.3 C431.7 498.4 433.0 490.6 434.8 487.2 C436.6 483.7 439.2 483.4 441.0 480.8 C442.9 478.1 444.3 474.5 445.9 471.3 C447.5 468.2 448.8 464.5 450.7 461.9 C452.5 459.2 455.7 458.1 457.0 455.5 C458.3 452.8 457.6 448.4 458.4 446.0 C459.2 443.7 460.4 442.6 461.8 441.2 C463.3 439.7 466.2 438.1 467.1 437.5" stroke="#000"/>
<path d="M633.0 439.3 C633.8 441.0 636.1 453.4 638.0 449.4 C639.9 445.4 642.2 418.3 644.2 415.2 C646.3 412.1 648.4 423.4 650.5 430.9 C652.6 438.4 654.7 450.8 656.7 460.2 C658.8 469.5 660.9 482.7 663.0 486.9 C665.1 491.2 667.1 483.3 669.2 485.7 C671.3 488.1 673.4 499.4 675.5 501.5 C677.6 503.6 679.6 495.9 681.7 498.3 C683.8 500.6 685.9 512.6 688.0 515.5 C690.0 518.4 692.1 512.6 694.2 515.9 C696.3 519.1 698.4 531.7 700.5 534.9 C702.5 538.2 704.6 532.1 706.7 535.3 C708.8 538.6 710.9 551.2 713.0 554.4 C715.0 557.5 717.1 551.7 719.2 554.3 C721.3 556.9 723.4 567.8 725.4 569.9 C727.5 572.0 729.6 564.6 731.7 566.8 C733.8 569.0 735.9 580.9 737.9 583.2 C740.0 585.6 742.1 578.7 744.2 581.1 C746.3 583.6 748.3 595.1 750.4 597.8 C752.5 600.5 754.6 594.8 756.7 597.4 C758.8 600.1 760.8 611.5 762.9 613.8 C765.0 616.0 767.1 608.9 769.2 610.8 C771.2 612.7 773.3 623.2 775.4 625.2 C777.5 627.1 779.6 620.0 781.7 622.5 C783.7 625.0 786.1 636.9 787.9 640.0 C789.7 643.1 791.2 641.6 792.3 640.8 C793.3 640.1 792.8 632.8 794.2 635.5 C795.5 638.2 798.3 657.7 800.4 657.1 C802.5 656.5 804.6 630.2 806.6 632.0 C808.7 633.7 810.8 668.1 812.9 667.5 C815.0 666.9 817.1 628.1 819.1 628.5 C821.2 628.8 823.3 668.9 825.4 669.6 C827.5 670.4 829.5 631.4 831.6 632.8 C833.7 634.2 835.8 677.4 837.9 677.9 C840.0 678.4 842.0 634.6 844.1 635.9 C846.2 637.2 848.3 683.9 850.4 685.8 C852.4 687.7 854.5 643.2 856.6 647.2 C858.7 651.3 860.8 710.1 862.9 710.2 C864.9 710.3 867.0 647.8 869.1 648.0 C871.2 648.2 873.3 712.2 875.4 711.2 C877.4 710.3 879.5 644.8 881.6 642.3 C883.7 639.8 885.8 697.3 887.8 696.2 C889.9 695.0 892.0 635.5 894.1 635.5 C896.2 635.6 898.3 692.2 900.3 696.4 C902.4 700.6 904.5 659.6 906.6 660.6 C908.7 661.6 910.7 704.4 912.8 702.3 C914.9 700.2 917.0 646.4 919.1 648.0 C921.2 649.7 923.2 709.8 925.3 712.4 C927.4 714.9 929.5 658.5 931.6 663.5 C933.7 668.5 935.7 743.4 937.8 742.5 C939.9 741.6 942.0 658.8 944.1 658.2 C946.1 657.7 948.2 737.3 950.3 739.3 C952.4 741.2 954.5 664.9 956.6 669.9 C958.6 674.9 960.7 769.4 962.8 769.1 C964.9 768.8 967.0 672.8 969.0 668.0 C971.1 663.2 973.2 741.2 975.3 740.5 C977.4 739.7 979.5 664.8 981.5 663.4 C983.6 662.1 985.7 734.4 987.8 732.3 C989.9 730.1 992.1 664.1 994.0 650.5 C995.9 636.9 998.3 650.7 999.2 650.7" stroke="#000"/>
<path d="M178.4 649.7 C179.0 647.7 180.4 640.7 182.0 637.9 C183.7 635.2 186.2 635.8 188.3 633.3 C190.3 630.7 192.4 624.8 194.5 622.6 C196.6 620.3 198.7 621.2 200.8 619.7 C202.8 618.1 204.9 614.2 207.0 613.3 C209.1 612.4 211.2 615.3 213.3 614.3 C215.3 613.2 217.4 608.3 219.5 607.1 C221.6 605.9 223.7 608.3 225.7 607.0 C227.8 605.8 229.9 600.8 232.0 599.6 C234.1 598.4 236.2 600.9 238.2 599.9 C240.3 598.9 242.4 594.2 244.5 593.7 C246.6 593.2 248.6 596.8 250.7 596.9 C252.8 597.0 254.9 594.3 257.0 594.5 C259.1 594.7 261.1 598.1 263.2 598.0 C265.3 597.8 267.4 593.5 269.5 593.8 C271.6 594.1 273.6 598.6 275.7 599.6 C277.8 600.6 279.9 598.6 282.0 599.7 C284.0 600.7 286.1 605.8 288.2 605.9 C290.3 606.1 292.4 600.0 294.5 600.6 C296.5 601.2 298.6 606.7 300.7 609.5 C302.8 612.4 304.9 614.7 306.9 617.6 C309.0 620.6 311.1 630.4 313.2 627.4 C315.3 624.5 317.4 602.9 319.4 600.0 C321.5 597.0 323.6 607.2 325.7 609.8 C327.8 612.4 329.8 613.2 331.9 615.6 C334.0 618.0 336.1 623.8 338.2 624.0 C340.3 624.3 342.3 618.6 344.4 617.0 C346.5 615.4 348.6 617.2 350.7 614.4 C352.8 611.6 354.8 605.8 356.9 600.2 C359.0 594.6 361.1 589.6 363.2 580.7 C365.2 571.7 367.3 557.9 369.4 546.6 C371.5 535.2 373.6 526.5 375.7 512.4 C377.7 498.4 379.8 475.2 381.9 462.4 C384.0 449.6 386.1 444.3 388.1 435.8 C390.2 427.3 392.3 417.2 394.4 411.5 C396.5 405.8 398.6 404.8 400.6 401.6 C402.7 398.3 404.8 393.2 406.9 392.1 C409.0 390.9 411.0 394.6 413.1 394.9 C415.2 395.1 417.3 392.5 419.4 393.7 C421.5 395.0 423.5 400.4 425.6 402.3 C427.7 404.1 429.8 403.0 431.9 404.8 C434.0 406.6 436.0 411.2 438.1 413.2 C440.2 415.3 442.3 414.6 444.4 417.1 C446.4 419.6 448.5 425.5 450.6 428.2 C452.7 430.9 454.8 430.1 456.9 433.2 C458.9 436.2 461.0 443.4 463.1 446.3 C465.2 449.1 467.3 447.8 469.3 450.2 C471.4 452.7 473.5 458.5 475.6 460.9 C477.7 463.3 479.8 462.0 481.8 464.5 C483.9 467.0 486.0 473.2 488.1 475.7 C490.2 478.3 492.3 477.1 494.3 479.7 C496.4 482.2 498.5 488.4 500.6 490.9 C502.7 493.4 504.7 492.3 506.8 494.8 C508.9 497.3 511.0 503.4 513.1 505.9 C515.2 508.4 517.2 507.4 519.3 509.7 C521.4 512.1 523.5 518.0 525.6 519.8 C527.6 521.5 529.7 518.5 531.8 520.0 C533.9 521.4 536.0 524.5 538.1 528.5 C540.1 532.5 542.2 537.8 544.3 543.9 C546.4 550.0 548.5 560.6 550.5 565.1 C552.6 569.5 554.7 569.0 556.8 570.5 C558.9 572.0 561.0 574.1 563.0 574.1 C565.1 574.2 567.2 570.5 569.3 570.9 C571.4 571.3 573.5 576.1 575.5 576.5 C577.6 576.9 579.7 573.6 581.8 573.3 C583.9 573.0 585.9 574.7 588.0 574.8 C590.1 575.0 592.2 573.2 594.3 574.3 C596.4 575.3 598.4 580.0 600.5 581.0 C602.6 582.0 604.7 579.4 606.8 580.4 C608.8 581.4 610.9 586.1 613.0 587.0 C615.1 588.0 617.2 585.3 619.3 586.3 C621.3 587.2 623.4 591.8 625.5 592.8 C627.6 593.7 629.7 590.8 631.7 592.0 C633.8 593.2 635.9 598.6 638.0 600.1 C640.1 601.7 642.2 599.7 644.2 601.3 C646.3 602.9 648.4 608.4 650.5 609.8 C652.6 611.2 654.7 608.6 656.7 609.6 C658.8 610.7 660.9 615.0 663.0 615.9 C665.1 616.7 667.1 613.9 669.2 614.8 C671.3 615.7 673.4 620.2 675.5 621.0 C677.6 621.9 679.6 619.0 681.7 619.7 C683.8 620.5 685.9 624.7 688.0 625.4 C690.0 626.0 692.1 623.0 694.2 623.7 C696.3 624.3 698.4 628.6 700.5 629.3 C702.5 629.9 704.6 627.0 706.7 627.6 C708.8 628.1 710.9 632.1 713.0 632.5 C715.0 632.9 717.1 629.5 719.2 629.9 C721.3 630.2 723.4 634.2 725.4 634.6 C727.5 634.9 729.6 631.6 731.7 631.9 C733.8 632.3 735.9 636.2 737.9 636.5 C740.0 636.7 742.1 633.3 744.2 633.5 C746.3 633.7 748.3 637.6 750.4 637.9 C752.5 638.1 754.6 634.7 756.7 634.9 C758.8 635.1 760.8 639.0 762.9 639.2 C765.0 639.5 767.1 636.0 769.2 636.3 C771.2 636.6 773.3 640.2 775.4 641.0 C777.5 641.8 779.6 639.9 781.7 641.2 C783.7 642.5 785.8 647.6 787.9 648.8 C790.0 650.0 792.1 647.6 794.2 648.5 C796.2 649.4 798.3 653.5 800.4 654.2 C802.5 654.9 804.6 652.0 806.6 652.7 C808.7 653.3 810.8 657.9 812.9 658.2 C815.0 658.4 817.1 654.3 819.1 654.1 C821.2 654.0 823.3 657.5 825.4 657.4 C827.5 657.2 829.5 653.4 831.6 653.3 C833.7 653.2 835.8 656.7 837.9 656.6 C840.0 656.4 842.0 652.5 844.1 652.5 C846.2 652.5 848.3 656.2 850.4 656.3 C852.4 656.4 854.5 652.9 856.6 653.0 C858.7 653.1 860.8 656.8 862.9 656.9 C864.9 657.0 867.0 653.5 869.1 653.6 C871.2 653.7 873.3 657.4 875.4 657.5 C877.4 657.6 879.5 654.1 881.6 654.2 C883.7 654.3 885.8 658.0 887.8 658.1 C889.9 658.3 892.0 654.8 894.1 655.0 C896.2 655.2 898.3 659.1 900.3 659.3 C902.4 659.5 904.5 656.1 906.6 656.3 C908.7 656.5 910.7 660.4 912.8 660.6 C914.9 660.7 917.0 657.2 919.1 657.3 C921.2 657.4 923.2 661.2 925.3 661.4 C927.4 661.5 929.5 658.0 931.6 658.1 C933.7 658.2 935.7 662.0 937.8 662.2 C939.9 662.3 942.0 658.7 944.1 658.9 C946.1 659.1 948.2 663.1 950.3 663.3 C952.4 663.6 954.5 660.2 956.6 660.5 C958.6 660.8 960.7 664.7 962.8 665.0 C964.9 665.2 967.0 661.9 969.0 662.1 C971.1 662.4 973.2 666.3 975.3 666.6 C977.4 666.9 979.5 663.5 981.5 663.8 C983.6 664.1 985.7 668.0 987.8 668.3 C989.9 668.5 992.1 665.6 994.0 665.4 C995.9 665.3 998.3 667.2 999.2 667.5" stroke="#f00"/>
<path d="M178.4 696.4 C179.0 695.7 180.4 692.6 182.0 692.2 C183.7 691.8 186.2 694.7 188.3 693.9 C190.3 693.1 192.4 687.8 194.5 687.4 C196.6 687.0 198.7 691.8 200.8 691.5 C202.8 691.2 204.9 686.1 207.0 685.8 C209.1 685.6 211.2 690.3 213.3 689.9 C215.3 689.5 217.4 684.1 219.5 683.6 C221.6 683.1 223.7 687.5 225.7 686.9 C227.8 686.4 229.9 681.0 232.0 680.5 C234.1 680.0 236.2 684.1 238.2 683.8 C240.3 683.5 242.4 678.8 244.5 678.8 C246.6 678.8 248.6 683.6 250.7 683.6 C252.8 683.6 254.9 678.8 257.0 678.8 C259.1 678.8 261.1 683.8 263.2 683.6 C265.3 683.4 267.4 678.0 269.5 677.6 C271.6 677.2 273.6 681.7 275.7 681.4 C277.8 681.1 279.9 676.1 282.0 675.7 C284.0 675.3 286.1 680.7 288.2 678.9 C290.3 677.2 292.4 665.7 294.5 665.2 C296.5 664.7 298.6 674.2 300.7 676.0 C302.8 677.7 304.9 675.0 306.9 675.7 C309.0 676.4 311.1 684.4 313.2 680.2 C315.3 676.0 317.4 655.0 319.4 650.5 C321.5 645.9 323.6 652.6 325.7 652.9 C327.8 653.1 329.8 653.2 331.9 652.3 C334.0 651.3 336.1 651.1 338.2 647.0 C340.3 642.9 342.3 632.4 344.4 627.8 C346.5 623.2 348.6 623.1 350.7 619.5 C352.8 615.9 354.8 609.0 356.9 606.3 C359.0 603.6 361.1 606.3 363.2 603.4 C365.2 600.4 367.3 590.9 369.4 588.5 C371.5 586.0 373.6 590.3 375.7 588.6 C377.7 587.0 379.8 580.9 381.9 578.6 C384.0 576.2 386.1 577.3 388.1 574.5 C390.2 571.7 392.3 564.2 394.4 561.8 C396.5 559.5 398.6 562.5 400.6 560.2 C402.7 557.9 404.8 550.8 406.9 548.0 C409.0 545.3 411.0 546.5 413.1 543.5 C415.2 540.4 417.3 532.4 419.4 529.7 C421.5 527.0 423.5 529.5 425.6 527.2 C427.7 525.0 429.8 518.3 431.9 516.0 C434.0 513.6 436.0 515.5 438.1 513.0 C440.2 510.4 442.3 503.3 444.4 500.7 C446.4 498.0 448.5 500.1 450.6 497.2 C452.7 494.2 454.8 486.0 456.9 483.2 C458.9 480.5 461.0 482.8 463.1 480.7 C465.2 478.6 467.3 472.8 469.3 470.6 C471.4 468.3 473.5 469.6 475.6 467.0 C477.7 464.4 479.8 457.0 481.8 455.0 C483.9 453.0 486.0 456.4 488.1 455.0 C490.2 453.5 492.3 447.4 494.3 446.3 C496.4 445.1 498.5 449.1 500.6 448.1 C502.7 447.0 504.7 441.0 506.8 440.0 C508.9 438.9 511.0 442.4 513.1 441.7 C515.2 441.0 517.2 436.1 519.3 435.8 C521.4 435.5 523.5 440.1 525.6 439.9 C527.6 439.8 529.7 435.1 531.8 435.1 C533.9 435.1 536.0 436.0 538.1 439.9 C540.1 443.9 542.2 451.1 544.3 458.8 C546.4 466.5 548.5 482.0 550.5 486.1 C552.6 490.2 554.7 484.1 556.8 483.5 C558.9 482.8 561.0 484.0 563.0 482.1 C565.1 480.1 567.2 473.2 569.3 471.6 C571.4 470.0 573.5 473.9 575.5 472.6 C577.6 471.4 579.7 465.0 581.8 464.0 C583.9 463.0 585.9 466.6 588.0 466.5 C590.1 466.4 592.2 462.8 594.3 463.4 C596.4 464.0 598.4 469.3 600.5 470.0 C602.6 470.7 604.7 466.6 606.8 467.5 C608.8 468.3 610.9 473.8 613.0 474.9 C615.1 476.1 617.2 472.9 619.3 474.4 C621.3 475.8 623.4 482.2 625.5 483.6 C627.6 485.1 629.7 481.6 631.7 483.1 C633.8 484.7 635.9 491.1 638.0 492.9 C640.1 494.7 642.2 491.8 644.2 493.7 C646.3 495.6 648.4 502.4 650.5 504.2 C652.6 506.1 654.7 503.2 656.7 505.0 C658.8 506.9 660.9 513.7 663.0 515.5 C665.1 517.4 667.1 514.4 669.2 516.3 C671.3 518.1 673.4 525.0 675.5 526.8 C677.6 528.6 679.6 525.5 681.7 527.1 C683.8 528.6 685.9 534.8 688.0 536.3 C690.0 537.7 692.1 534.3 694.2 535.7 C696.3 537.1 698.4 543.4 700.5 544.9 C702.5 546.4 704.6 543.3 706.7 544.9 C708.8 546.6 710.9 553.2 713.0 554.9 C715.0 556.6 717.1 553.5 719.2 555.1 C721.3 556.7 723.4 563.2 725.4 564.7 C727.5 566.1 729.6 562.3 731.7 563.5 C733.8 564.7 735.9 570.9 737.9 572.1 C740.0 573.3 742.1 569.8 744.2 571.0 C746.3 572.1 748.3 578.1 750.4 579.1 C752.5 580.2 754.6 576.3 756.7 577.4 C758.8 578.4 760.8 584.3 762.9 585.4 C765.0 586.4 767.1 582.4 769.2 583.6 C771.2 584.8 773.3 591.0 775.4 592.5 C777.5 593.9 779.6 590.4 781.7 592.6 C783.7 594.7 785.8 602.4 787.9 605.1 C790.0 607.9 792.1 607.4 794.2 609.2 C796.2 611.0 798.3 615.4 800.4 616.0 C802.5 616.5 804.6 612.2 806.6 612.6 C808.7 613.1 810.8 618.8 812.9 618.8 C815.0 618.8 817.1 612.9 819.1 612.6 C821.2 612.4 823.3 617.0 825.4 617.2 C827.5 617.5 829.5 613.6 831.6 614.3 C833.7 614.9 835.8 620.4 837.9 621.0 C840.0 621.7 842.0 617.4 844.1 618.1 C846.2 618.7 848.3 624.2 850.4 624.8 C852.4 625.5 854.5 621.2 856.6 621.8 C858.7 622.5 860.8 628.0 862.9 628.6 C864.9 629.2 867.0 624.9 869.1 625.3 C871.2 625.6 873.3 630.5 875.4 630.7 C877.4 630.8 879.5 626.1 881.6 626.3 C883.7 626.4 885.8 631.5 887.8 631.6 C889.9 631.8 892.0 626.9 894.1 627.3 C896.2 627.6 898.3 633.1 900.3 633.7 C902.4 634.3 904.5 630.2 906.6 630.9 C908.7 631.6 910.7 637.1 912.8 637.8 C914.9 638.5 917.0 634.3 919.1 635.0 C921.2 635.8 923.2 641.4 925.3 642.4 C927.4 643.3 929.5 639.5 931.6 640.6 C933.7 641.6 935.7 647.5 937.8 648.5 C939.9 649.6 942.0 645.7 944.1 646.7 C946.1 647.8 948.2 653.7 950.3 654.8 C952.4 655.8 954.5 652.0 956.6 653.0 C958.6 654.1 960.7 660.1 962.8 661.1 C964.9 662.0 967.0 658.1 969.0 658.7 C971.1 659.3 973.2 664.4 975.3 664.7 C977.4 665.1 979.5 660.6 981.5 661.0 C983.6 661.4 985.7 667.1 987.8 667.0 C989.9 666.9 992.1 661.3 994.0 660.1 C995.9 659.0 998.3 659.9 999.2 659.9" stroke="#00f"/>
</g>
<rect x="178.4" y="239.5" width="819.1" height="533.1" fill="none" stroke="#000" stroke-width="1.5"/>
<line x1="173.8" y1="772.6" x2="178.4" y2="772.6" stroke="#000" stroke-width="1.3"/>
<text class="dj" x="0" y="0" font-size="25" text-anchor="end" transform="translate(168.2,781.6) scale(1,1.000)">0</text>
<line x1="173.8" y1="696.4" x2="178.4" y2="696.4" stroke="#000" stroke-width="1.3"/>
<text class="dj" x="0" y="0" font-size="25" text-anchor="end" transform="translate(168.2,705.4) scale(1,1.000)">0.5</text>
<line x1="173.8" y1="620.3" x2="178.4" y2="620.3" stroke="#000" stroke-width="1.3"/>
<text class="dj" x="0" y="0" font-size="25" text-anchor="end" transform="translate(168.2,629.3) scale(1,1.000)">1</text>
<line x1="173.8" y1="544.1" x2="178.4" y2="544.1" stroke="#000" stroke-width="1.3"/>
<text class="dj" x="0" y="0" font-size="25" text-anchor="end" transform="translate(168.2,553.1) scale(1,1.000)">1.5</text>
<line x1="173.8" y1="468.0" x2="178.4" y2="468.0" stroke="#000" stroke-width="1.3"/>
<text class="dj" x="0" y="0" font-size="25" text-anchor="end" transform="translate(168.2,477.0) scale(1,1.000)">2</text>
<line x1="173.8" y1="391.8" x2="178.4" y2="391.8" stroke="#000" stroke-width="1.3"/>
<text class="dj" x="0" y="0" font-size="25" text-anchor="end" transform="translate(168.2,400.8) scale(1,1.000)">2.5</text>
<line x1="173.8" y1="315.7" x2="178.4" y2="315.7" stroke="#000" stroke-width="1.3"/>
<text class="dj" x="0" y="0" font-size="25" text-anchor="end" transform="translate(168.2,324.7) scale(1,1.000)">3</text>
<line x1="173.8" y1="239.5" x2="178.4" y2="239.5" stroke="#000" stroke-width="1.3"/>
<text class="dj" x="0" y="0" font-size="25" text-anchor="end" transform="translate(168.2,248.5) scale(1,1.000)">3.5</text>
<line x1="178.4" y1="772.6" x2="178.4" y2="777.2" stroke="#000" stroke-width="1.3"/>
<text class="dj" x="0" y="0" font-size="25" text-anchor="middle" transform="translate(177.8,801.6) scale(1,1.07) scale(1,1.000)">Oct 03</text>
<line x1="299.1" y1="772.6" x2="299.1" y2="777.2" stroke="#000" stroke-width="1.3"/>
<text class="dj" x="0" y="0" font-size="25" text-anchor="middle" transform="translate(298.5,801.6) scale(1,1.07) scale(1,1.000)">Oct 08</text>
<line x1="419.8" y1="772.6" x2="419.8" y2="777.2" stroke="#000" stroke-width="1.3"/>
<text class="dj" x="0" y="0" font-size="25" text-anchor="middle" transform="translate(419.2,801.6) scale(1,1.07) scale(1,1.000)">Oct 13</text>
<line x1="540.5" y1="772.6" x2="540.5" y2="777.2" stroke="#000" stroke-width="1.3"/>
<text class="dj" x="0" y="0" font-size="25" text-anchor="middle" transform="translate(539.9,801.6) scale(1,1.07) scale(1,1.000)">Oct 18</text>
<line x1="661.2" y1="772.6" x2="661.2" y2="777.2" stroke="#000" stroke-width="1.3"/>
<text class="dj" x="0" y="0" font-size="25" text-anchor="middle" transform="translate(660.6,801.6) scale(1,1.07) scale(1,1.000)">Oct 23</text>
<line x1="781.9" y1="772.6" x2="781.9" y2="777.2" stroke="#000" stroke-width="1.3"/>
<text class="dj" x="0" y="0" font-size="25" text-anchor="middle" transform="translate(781.3,801.6) scale(1,1.07) scale(1,1.000)">Oct 28</text>
<line x1="902.6" y1="772.6" x2="902.6" y2="777.2" stroke="#000" stroke-width="1.3"/>
<text class="dj" x="0" y="0" font-size="25" text-anchor="middle" transform="translate(902.0,801.6) scale(1,1.07) scale(1,1.000)">Nov 02</text>
<text class="dj" x="0" y="0" font-size="25" text-anchor="middle" transform="translate(587.5,230.8) scale(1,1.000)">USGS 02110802</text>
<text class="dj" x="0" y="0" font-size="23" text-anchor="middle" transform="translate(117,499.9) rotate(-90) scale(1,1.000)">Water level (m)</text>
<rect x="476.8" y="254.5" width="506" height="139.8" rx="6" ry="6" fill="#fff" fill-opacity="0.8" stroke="#cccccc" stroke-width="1.3"/>
<line x1="485" y1="278.6" x2="551.2" y2="278.6" stroke="#000" stroke-width="6.8"/>
<text class="dj" x="0" y="0" font-size="29.5" transform="translate(571.3,288.7) scale(1,1.000)">USGS obs</text>
<line x1="485" y1="322.4" x2="551.2" y2="322.4" stroke="#f00" stroke-width="6.8"/>
<text class="dj" x="0" y="0" font-size="29.5" transform="translate(571.3,332.5) scale(1,1.000)">NWM drive SCHISM (EXP1)</text>
<line x1="485" y1="366.2" x2="551.2" y2="366.2" stroke="#00f" stroke-width="6.8"/>
<text class="dj" x="0" y="0" font-size="29.5" transform="translate(571.3,376.3) scale(1,1.000)">USGS drive SCHISM (EXP2)</text>
<text class="tr" x="0" y="0" font-size="62" fill="#0058e8" transform="translate(734.0,480.0) scale(1,1.000)">NSE: 0.80</text>
<text class="tr" x="0" y="0" font-size="62" fill="#ff0000" transform="translate(426.6,709.6) scale(1,1.000)">NSE: 0.13</text>
<rect x="58.5" y="851.6" width="988.1" height="592.5" fill="#fff"/>
<clipPath id="pc1"><rect x="178.4" y="881.4" width="819.1" height="533.1"/></clipPath>
<g clip-path="url(#pc1)" fill="none" stroke-width="6.8" stroke-linejoin="round" stroke-linecap="round">
<path d="M178.4 1292.6 C179.0 1282.0 180.4 1218.0 182.0 1228.9 C183.7 1239.8 186.2 1357.9 188.3 1358.1 C190.3 1358.2 192.4 1231.1 194.5 1229.7 C196.6 1228.3 198.7 1349.5 200.8 1349.7 C202.8 1349.8 204.9 1231.3 207.0 1230.5 C209.1 1229.7 211.2 1344.9 213.3 1345.0 C215.3 1345.2 217.4 1234.9 219.5 1231.3 C221.6 1227.6 223.7 1323.3 225.7 1323.3 C227.8 1323.3 229.9 1230.0 232.0 1231.4 C234.1 1232.7 236.2 1331.6 238.2 1331.4 C240.3 1331.3 242.4 1231.9 244.5 1230.6 C246.6 1229.3 248.6 1323.8 250.7 1323.7 C252.8 1323.5 254.9 1228.9 257.0 1229.8 C259.1 1230.8 261.1 1329.5 263.2 1329.3 C265.3 1329.2 267.4 1231.1 269.5 1229.0 C271.6 1226.9 273.6 1317.7 275.7 1316.9 C277.8 1316.1 280.0 1224.5 282.0 1224.3 C283.9 1224.0 285.5 1314.8 287.5 1315.5 C289.5 1316.2 291.6 1240.1 293.8 1228.7 C296.0 1217.3 299.1 1250.3 300.8 1247.0 C302.5 1243.7 302.8 1227.1 303.9 1208.9 C305.0 1190.6 306.2 1143.1 307.3 1137.6 C308.4 1132.1 309.1 1181.3 310.7 1175.8 C312.3 1170.3 315.1 1103.0 317.0 1104.7 C318.9 1106.4 320.4 1161.6 322.0 1186.0 C323.6 1210.4 325.2 1243.3 326.6 1251.2 C328.1 1259.1 329.4 1230.0 330.7 1233.4 C332.1 1236.8 332.7 1277.7 334.8 1271.8 C337.0 1265.8 341.1 1196.6 343.8 1197.8 C346.4 1198.9 348.4 1279.3 350.5 1278.6 C352.7 1278.0 354.5 1197.5 356.6 1193.6 C358.6 1189.8 360.5 1261.0 362.8 1255.3 C365.1 1249.6 368.1 1163.0 370.3 1159.4 C372.5 1155.7 373.9 1231.8 375.9 1233.4 C377.8 1235.0 379.6 1167.8 381.9 1169.0 C384.2 1170.1 387.3 1243.0 389.4 1240.3 C391.4 1237.5 392.2 1155.0 394.2 1152.5 C396.2 1150.0 399.0 1224.9 401.2 1225.2 C403.4 1225.4 405.0 1155.2 407.2 1154.0 C409.5 1152.9 412.7 1221.7 414.7 1218.3 C416.8 1214.9 417.5 1136.7 419.6 1133.5 C421.6 1130.3 425.0 1197.5 427.0 1199.1 C429.1 1200.7 430.0 1143.3 431.9 1143.1 C433.7 1142.8 436.0 1200.7 438.1 1197.8 C440.2 1194.8 442.3 1128.6 444.4 1125.5 C446.4 1122.4 448.5 1179.5 450.6 1179.0 C452.7 1178.4 454.8 1124.3 456.9 1122.1 C458.9 1120.0 461.0 1169.3 463.1 1165.8 C465.2 1162.4 467.3 1105.1 469.3 1101.6 C471.4 1098.2 473.5 1148.2 475.6 1145.2 C477.7 1142.3 479.8 1085.9 481.8 1084.0 C483.9 1082.1 486.0 1134.2 488.1 1134.0 C490.2 1133.8 492.3 1083.4 494.3 1082.5 C496.4 1081.7 498.5 1129.8 500.6 1128.6 C502.7 1127.4 504.7 1077.3 506.8 1075.3 C508.9 1073.4 511.0 1116.5 513.1 1117.1 C515.2 1117.7 517.2 1078.9 519.3 1079.2 C521.4 1079.5 523.5 1120.8 525.6 1118.9 C527.6 1116.9 529.7 1068.3 531.8 1067.4 C533.9 1066.5 536.0 1112.2 538.1 1113.6 C540.1 1115.0 542.2 1074.5 544.3 1076.0 C546.4 1077.4 548.5 1123.0 550.5 1122.2 C552.6 1121.4 554.7 1071.5 556.8 1071.2 C558.9 1070.9 561.0 1117.2 563.0 1120.4 C565.1 1123.6 567.2 1088.9 569.3 1090.6 C571.4 1092.4 573.5 1130.1 575.5 1130.8 C577.6 1131.5 579.7 1093.5 581.8 1094.6 C583.9 1095.6 585.9 1132.9 588.0 1136.9 C590.1 1140.8 592.2 1115.5 594.3 1118.1 C596.4 1120.8 598.4 1156.4 600.5 1152.7 C602.6 1149.0 604.7 1094.9 606.8 1096.0 C608.8 1097.1 610.9 1153.7 613.0 1159.2 C615.1 1164.7 617.2 1127.4 619.3 1129.0 C621.3 1130.7 623.4 1171.7 625.5 1169.1 C627.6 1166.6 629.7 1108.4 631.7 1113.8 C633.8 1119.2 635.9 1195.1 638.0 1201.5 C640.1 1207.9 642.2 1151.6 644.2 1152.3 C646.3 1153.0 648.4 1207.5 650.5 1205.8 C652.6 1204.1 654.7 1140.7 656.7 1142.1 C658.8 1143.5 660.9 1210.3 663.0 1214.3 C665.1 1218.3 667.1 1165.3 669.2 1166.1 C671.3 1166.9 673.4 1223.2 675.5 1218.9 C677.6 1214.7 679.6 1135.7 681.7 1140.6 C683.8 1145.5 685.9 1241.0 688.0 1248.2 C690.0 1255.3 692.1 1180.3 694.2 1183.6 C696.3 1186.8 698.4 1268.2 700.5 1267.6 C702.5 1266.9 704.6 1178.4 706.7 1179.9 C708.8 1181.4 710.9 1273.7 713.0 1276.6 C715.0 1279.5 717.1 1196.7 719.2 1197.4 C721.3 1198.1 723.4 1286.6 725.4 1280.8 C727.5 1274.9 729.6 1160.8 731.7 1162.1 C733.8 1163.4 735.9 1283.4 737.9 1288.5 C740.0 1293.6 742.1 1190.1 744.2 1192.8 C746.3 1195.5 748.3 1307.1 750.4 1304.6 C752.5 1302.1 754.6 1175.5 756.7 1177.8 C758.8 1180.2 760.8 1314.5 762.9 1318.6 C765.0 1322.7 767.1 1200.6 769.2 1202.5 C771.2 1204.5 773.3 1330.4 775.4 1330.3 C777.5 1330.2 779.6 1200.0 781.7 1202.0 C783.7 1203.9 785.8 1340.8 787.9 1341.8 C790.0 1342.8 792.1 1209.1 794.2 1207.9 C796.2 1206.7 798.3 1335.0 800.4 1334.7 C802.5 1334.3 804.6 1204.2 806.6 1205.8 C808.7 1207.3 810.8 1344.2 812.9 1343.9 C815.0 1343.5 817.1 1202.7 819.1 1203.6 C821.2 1204.5 823.3 1348.6 825.4 1349.2 C827.5 1349.7 829.5 1204.2 831.6 1206.8 C833.7 1209.4 835.8 1364.1 837.9 1364.7 C840.0 1365.2 842.0 1211.0 844.1 1210.1 C846.2 1209.3 848.3 1358.5 850.4 1359.6 C852.4 1360.7 854.5 1221.6 856.6 1216.8 C858.7 1212.0 860.8 1329.5 862.9 1330.5 C864.9 1331.6 867.0 1223.3 869.1 1223.2 C871.2 1223.0 873.3 1331.7 875.4 1329.5 C877.4 1327.4 879.5 1206.9 881.6 1210.1 C883.7 1213.4 885.8 1351.3 887.8 1349.2 C889.9 1347.0 892.0 1196.3 894.1 1197.1 C896.2 1197.8 898.3 1352.4 900.3 1353.9 C902.4 1355.3 904.5 1202.2 906.6 1206.0 C908.7 1209.8 910.7 1375.3 912.8 1376.8 C914.9 1378.3 917.0 1216.8 919.1 1214.9 C921.2 1213.0 923.2 1364.3 925.3 1365.2 C927.4 1366.1 929.5 1216.2 931.6 1220.3 C933.7 1224.4 935.7 1388.8 937.8 1389.7 C939.9 1390.6 942.0 1231.4 944.1 1225.7 C946.1 1220.0 948.2 1354.6 950.3 1355.4 C952.4 1356.1 954.5 1232.3 956.6 1230.2 C958.6 1228.1 960.7 1342.3 962.8 1343.0 C964.9 1343.8 967.0 1234.5 969.0 1234.7 C971.1 1234.9 973.2 1346.3 975.3 1344.5 C977.4 1342.6 979.5 1223.2 981.5 1223.5 C983.6 1223.7 985.7 1347.8 987.8 1346.0 C989.9 1344.1 993.0 1234.6 994.0 1212.4" stroke="#000"/>
<path d="M178.4 1224.1 C179.0 1222.3 180.4 1208.1 182.0 1213.4 C183.7 1218.7 186.2 1258.2 188.3 1255.9 C190.3 1253.5 192.4 1201.4 194.5 1199.4 C196.6 1197.3 198.7 1243.5 200.8 1243.6 C202.8 1243.6 204.9 1200.8 207.0 1199.7 C209.1 1198.7 211.2 1239.2 213.3 1237.3 C215.3 1235.4 217.4 1189.4 219.5 1188.4 C221.6 1187.4 223.7 1230.9 225.7 1231.5 C227.8 1232.2 229.9 1192.9 232.0 1192.1 C234.1 1191.3 236.2 1228.4 238.2 1226.8 C240.3 1225.2 242.4 1183.6 244.5 1182.7 C246.6 1181.8 248.6 1220.2 250.7 1221.5 C252.8 1222.8 254.9 1189.9 257.0 1190.5 C259.1 1191.2 261.1 1226.3 263.2 1225.3 C265.3 1224.3 267.4 1184.8 269.5 1184.4 C271.6 1184.0 273.6 1220.5 275.7 1223.0 C277.8 1225.4 280.3 1198.3 282.0 1199.1 C283.6 1200.0 283.6 1231.8 285.6 1227.9 C287.6 1224.0 290.9 1174.9 293.8 1175.8 C296.7 1176.7 301.1 1224.6 303.2 1233.4 C305.3 1242.2 305.2 1229.1 306.3 1228.7 C307.5 1228.2 308.2 1242.0 310.2 1230.7 C312.2 1219.3 315.9 1163.0 318.4 1160.7 C320.9 1158.5 323.4 1202.1 325.2 1216.9 C327.0 1231.8 327.7 1244.1 329.3 1249.8 C330.9 1255.6 333.5 1247.1 334.8 1251.2 C336.2 1255.3 335.9 1275.9 337.5 1274.5 C339.1 1273.2 342.2 1246.6 344.2 1243.0 C346.3 1239.3 348.2 1255.1 349.8 1252.6 C351.4 1250.1 352.1 1232.9 353.9 1227.9 C355.7 1222.9 358.8 1231.1 360.7 1222.4 C362.5 1213.7 363.5 1190.0 364.8 1175.8 C366.0 1161.7 367.0 1145.1 368.4 1137.6 C369.7 1130.1 371.3 1132.8 373.0 1130.7 C374.7 1128.7 377.2 1130.3 378.5 1125.3 C379.9 1120.2 379.8 1107.0 381.2 1100.6 C382.5 1094.2 385.1 1090.4 386.7 1086.9 C388.3 1083.3 389.3 1085.2 390.8 1079.4 C392.3 1073.6 394.1 1058.1 395.7 1052.0 C397.3 1045.9 398.5 1047.1 400.5 1042.9 C402.5 1038.6 405.6 1027.3 407.7 1026.6 C409.8 1025.8 411.2 1037.9 413.1 1038.3 C415.1 1038.7 417.3 1028.4 419.4 1029.1 C421.5 1029.7 423.5 1040.7 425.6 1042.0 C427.7 1043.3 429.8 1034.2 431.9 1036.9 C434.0 1039.6 436.0 1056.0 438.1 1058.3 C440.2 1060.6 442.3 1048.9 444.4 1050.9 C446.4 1052.9 448.5 1068.4 450.6 1070.3 C452.7 1072.3 454.8 1061.4 456.9 1062.8 C458.9 1064.1 461.0 1076.6 463.1 1078.5 C465.2 1080.5 467.3 1071.0 469.3 1074.2 C471.4 1077.5 473.5 1095.8 475.6 1098.1 C477.7 1100.3 479.8 1085.4 481.8 1087.8 C483.9 1090.1 486.0 1110.6 488.1 1112.4 C490.2 1114.1 492.3 1096.0 494.3 1098.4 C496.4 1100.8 498.5 1125.5 500.6 1126.7 C502.7 1127.9 504.7 1103.6 506.8 1105.6 C508.9 1107.6 511.0 1135.7 513.1 1138.6 C515.2 1141.5 517.2 1120.5 519.3 1122.9 C521.4 1125.3 523.5 1152.2 525.6 1153.0 C527.6 1153.8 529.7 1124.5 531.8 1127.8 C533.9 1131.1 536.0 1168.7 538.1 1173.0 C540.1 1177.2 542.2 1146.7 544.3 1153.2 C546.4 1159.8 548.5 1209.9 550.5 1212.3 C552.6 1214.7 554.7 1167.9 556.8 1167.6 C558.9 1167.2 561.0 1208.8 563.0 1210.3 C565.1 1211.8 567.2 1176.1 569.3 1176.8 C571.4 1177.4 573.5 1215.7 575.5 1214.3 C577.6 1212.9 579.7 1168.6 581.8 1168.3 C583.9 1168.0 585.9 1211.8 588.0 1212.5 C590.1 1213.3 592.2 1171.5 594.3 1172.8 C596.4 1174.0 598.4 1219.3 600.5 1220.1 C602.6 1220.8 604.7 1177.2 606.8 1177.4 C608.8 1177.5 610.9 1220.2 613.0 1221.1 C615.1 1221.9 617.2 1181.1 619.3 1182.7 C621.3 1184.2 623.4 1229.7 625.5 1230.6 C627.6 1231.4 629.7 1185.8 631.7 1188.0 C633.8 1190.1 635.9 1240.6 638.0 1243.4 C640.1 1246.3 642.2 1202.9 644.2 1205.1 C646.3 1207.2 648.4 1253.5 650.5 1256.5 C652.6 1259.4 654.7 1221.7 656.7 1222.6 C658.8 1223.6 660.9 1262.4 663.0 1262.4 C665.1 1262.4 667.1 1221.6 669.2 1222.4 C671.3 1223.1 673.4 1267.0 675.5 1266.8 C677.6 1266.6 679.6 1220.7 681.7 1221.2 C683.8 1221.6 685.9 1268.4 688.0 1269.5 C690.0 1270.5 692.1 1227.1 694.2 1227.5 C696.3 1227.9 698.4 1270.6 700.5 1271.8 C702.5 1272.9 704.6 1234.1 706.7 1234.6 C708.8 1235.1 710.9 1275.3 713.0 1274.8 C715.0 1274.3 717.1 1231.1 719.2 1231.6 C721.3 1232.2 723.4 1278.5 725.4 1277.9 C727.5 1277.4 729.6 1228.4 731.7 1228.4 C733.8 1228.4 735.9 1278.2 737.9 1278.0 C740.0 1277.7 742.1 1227.1 744.2 1226.9 C746.3 1226.7 748.3 1277.1 750.4 1276.9 C752.5 1276.7 754.6 1225.2 756.7 1225.7 C758.8 1226.3 760.8 1279.6 762.9 1280.2 C765.0 1280.9 767.1 1229.1 769.2 1229.9 C771.2 1230.6 773.3 1284.0 775.4 1284.7 C777.5 1285.5 779.6 1233.7 781.7 1234.5 C783.7 1235.2 785.8 1288.5 787.9 1289.3 C790.0 1290.1 792.1 1238.3 794.2 1239.1 C796.2 1239.8 798.3 1293.5 800.4 1293.9 C802.5 1294.3 804.6 1241.3 806.6 1241.4 C808.7 1241.4 810.8 1293.8 812.9 1294.2 C815.0 1294.5 817.1 1243.6 819.1 1243.6 C821.2 1243.6 823.3 1293.9 825.4 1294.2 C827.5 1294.5 829.5 1244.3 831.6 1245.2 C833.7 1246.2 835.8 1299.7 837.9 1299.9 C840.0 1300.2 842.0 1246.1 844.1 1246.9 C846.2 1247.7 848.3 1304.6 850.4 1304.8 C852.4 1305.1 854.5 1249.6 856.6 1248.5 C858.7 1247.4 860.8 1298.0 862.9 1298.3 C864.9 1298.5 867.0 1250.8 869.1 1250.0 C871.2 1249.1 873.3 1293.5 875.4 1293.2 C877.4 1292.9 879.5 1247.7 881.6 1248.4 C883.7 1249.0 885.8 1297.3 887.8 1297.1 C889.9 1296.9 892.0 1246.5 894.1 1247.2 C896.2 1247.8 898.3 1300.7 900.3 1301.1 C902.4 1301.5 904.5 1249.0 906.6 1249.7 C908.7 1250.3 910.7 1304.6 912.8 1305.0 C914.9 1305.4 917.0 1251.6 919.1 1252.2 C921.2 1252.8 923.2 1308.0 925.3 1308.8 C927.4 1309.5 929.5 1256.1 931.6 1256.6 C933.7 1257.2 935.7 1311.4 937.8 1312.1 C939.9 1312.8 942.0 1260.4 944.1 1260.8 C946.1 1261.2 948.2 1315.1 950.3 1314.2 C952.4 1313.4 954.5 1255.6 956.6 1255.6 C958.6 1255.6 960.7 1315.0 962.8 1314.2 C964.9 1313.3 967.0 1250.5 969.0 1250.5 C971.1 1250.5 973.2 1315.3 975.3 1314.1 C977.4 1312.8 979.5 1242.9 981.5 1242.8 C983.6 1242.8 985.7 1315.3 987.8 1314.0 C989.9 1312.7 993.0 1248.1 994.0 1235.0" stroke="#f00"/>
<path d="M178.4 1307.9 C179.0 1298.6 180.4 1249.0 182.0 1252.3 C183.7 1255.6 186.2 1328.3 188.3 1327.7 C190.3 1327.1 192.4 1250.1 194.5 1248.6 C196.6 1247.2 198.7 1318.4 200.8 1319.0 C202.8 1319.5 204.9 1252.2 207.0 1252.2 C209.1 1252.1 211.2 1320.7 213.3 1318.5 C215.3 1316.4 217.4 1241.6 219.5 1239.5 C221.6 1237.4 223.7 1305.5 225.7 1305.9 C227.8 1306.4 229.9 1241.9 232.0 1242.3 C234.1 1242.6 236.2 1308.7 238.2 1307.8 C240.3 1306.8 242.4 1237.5 244.5 1236.4 C246.6 1235.3 248.6 1299.7 250.7 1301.2 C252.8 1302.6 254.9 1244.1 257.0 1245.2 C259.1 1246.2 261.1 1309.8 263.2 1307.7 C265.3 1305.5 267.4 1233.9 269.5 1232.2 C271.6 1230.5 273.6 1295.3 275.7 1297.6 C277.8 1299.9 280.1 1246.0 282.0 1245.7 C283.8 1245.5 284.7 1300.0 286.8 1296.3 C288.8 1292.6 291.7 1225.2 294.3 1223.8 C296.9 1222.4 300.1 1284.0 302.5 1288.1 C304.9 1292.2 307.0 1252.8 308.8 1248.5 C310.5 1244.2 311.3 1272.5 312.9 1262.2 C314.5 1251.9 315.9 1182.2 318.4 1186.8 C320.9 1191.3 325.6 1273.7 327.8 1289.4 C330.1 1305.2 330.2 1277.7 331.9 1281.4 C333.7 1285.0 336.2 1316.4 338.2 1311.4 C340.3 1306.4 342.1 1258.0 344.2 1251.2 C346.4 1244.4 349.1 1274.1 351.2 1270.4 C353.4 1266.8 355.1 1233.2 357.3 1229.3 C359.4 1225.4 362.2 1253.7 364.3 1247.1 C366.3 1240.5 367.3 1194.3 369.6 1189.5 C371.8 1184.7 375.6 1219.5 377.8 1218.3 C380.0 1217.2 380.5 1184.5 382.6 1182.7 C384.8 1180.8 388.7 1210.8 390.8 1207.4 C393.0 1203.9 393.8 1165.8 395.7 1162.1 C397.5 1158.5 400.0 1187.0 401.9 1185.4 C403.9 1183.8 405.1 1155.0 407.2 1152.5 C409.4 1150.0 412.7 1173.5 414.7 1170.3 C416.8 1167.2 417.4 1136.9 419.6 1133.5 C421.7 1130.1 425.6 1152.0 427.8 1149.9 C429.9 1147.9 430.5 1124.1 432.6 1121.1 C434.6 1118.2 438.1 1134.6 440.1 1132.1 C442.0 1129.6 442.6 1108.7 444.4 1106.2 C446.1 1103.8 448.5 1119.9 450.6 1117.5 C452.7 1115.1 454.8 1094.1 456.9 1091.6 C458.9 1089.1 461.0 1105.0 463.1 1102.5 C465.2 1100.0 467.3 1078.7 469.3 1076.7 C471.4 1074.6 473.5 1092.2 475.6 1090.3 C477.7 1088.3 479.8 1066.9 481.8 1064.8 C483.9 1062.8 486.0 1078.9 488.1 1078.1 C490.2 1077.3 492.3 1060.8 494.3 1060.0 C496.4 1059.3 498.5 1075.2 500.6 1073.6 C502.7 1072.1 504.7 1051.7 506.8 1051.0 C508.9 1050.3 511.0 1068.8 513.1 1069.5 C515.2 1070.2 517.2 1055.0 519.3 1055.2 C521.4 1055.4 523.5 1071.2 525.6 1070.6 C527.6 1069.9 529.7 1046.1 531.8 1051.2 C533.9 1056.3 536.0 1096.6 538.1 1101.1 C540.1 1105.6 542.2 1074.3 544.3 1078.1 C546.4 1081.8 548.5 1120.1 550.5 1123.5 C552.6 1127.0 554.7 1101.5 556.8 1098.7 C558.9 1095.8 561.0 1107.9 563.0 1106.6 C565.1 1105.3 567.2 1092.1 569.3 1091.0 C571.4 1089.8 573.5 1101.1 575.5 1099.6 C577.6 1098.1 579.7 1082.7 581.8 1081.8 C583.9 1080.9 585.9 1094.3 588.0 1094.0 C590.1 1093.7 592.2 1079.0 594.3 1080.1 C596.4 1081.2 598.4 1099.2 600.5 1100.6 C602.6 1101.9 604.7 1086.7 606.8 1088.0 C608.8 1089.3 610.9 1107.1 613.0 1108.4 C615.1 1109.7 617.2 1094.1 619.3 1095.8 C621.3 1097.4 623.4 1117.1 625.5 1118.4 C627.6 1119.7 629.7 1101.3 631.7 1103.5 C633.8 1105.7 635.9 1129.0 638.0 1131.7 C640.1 1134.4 642.2 1117.4 644.2 1119.8 C646.3 1122.3 648.4 1143.7 650.5 1146.4 C652.6 1149.2 654.7 1134.3 656.7 1136.5 C658.8 1138.7 660.9 1158.4 663.0 1159.6 C665.1 1160.8 667.1 1141.4 669.2 1143.4 C671.3 1145.5 673.4 1171.0 675.5 1172.1 C677.6 1173.2 679.6 1148.2 681.7 1149.9 C683.8 1151.6 685.9 1180.1 688.0 1182.2 C690.0 1184.2 692.1 1160.7 694.2 1162.3 C696.3 1163.8 698.4 1189.4 700.5 1191.6 C702.5 1193.7 704.6 1173.3 706.7 1175.3 C708.8 1177.2 710.9 1202.2 713.0 1203.1 C715.0 1204.0 717.1 1178.7 719.2 1180.8 C721.3 1182.9 723.4 1214.9 725.4 1215.7 C727.5 1216.5 729.6 1184.0 731.7 1185.3 C733.8 1186.7 735.9 1223.0 737.9 1223.6 C740.0 1224.3 742.1 1188.3 744.2 1189.4 C746.3 1190.4 748.3 1229.2 750.4 1229.9 C752.5 1230.5 754.6 1192.3 756.7 1193.3 C758.8 1194.3 760.8 1235.0 762.9 1236.0 C765.0 1236.9 767.1 1197.8 769.2 1198.8 C771.2 1199.8 773.3 1241.6 775.4 1242.0 C777.5 1242.3 779.6 1199.1 781.7 1200.9 C783.7 1202.6 785.8 1250.7 787.9 1252.6 C790.0 1254.5 792.1 1210.7 794.2 1212.4 C796.2 1214.0 798.3 1262.6 800.4 1262.4 C802.5 1262.2 804.6 1210.7 806.6 1211.3 C808.7 1211.8 810.8 1265.7 812.9 1265.5 C815.0 1265.4 817.1 1210.5 819.1 1210.5 C821.2 1210.5 823.3 1265.0 825.4 1265.5 C827.5 1266.0 829.5 1212.8 831.6 1213.4 C833.7 1214.0 835.8 1268.6 837.9 1269.1 C840.0 1269.6 842.0 1215.4 844.1 1216.4 C846.2 1217.3 848.3 1274.2 850.4 1274.8 C852.4 1275.4 854.5 1219.9 856.6 1220.0 C858.7 1220.0 860.8 1274.7 862.9 1275.3 C864.9 1275.9 867.0 1223.7 869.1 1223.4 C871.2 1223.0 873.3 1274.3 875.4 1273.3 C877.4 1272.4 879.5 1217.0 881.6 1217.6 C883.7 1218.2 885.8 1277.6 887.8 1276.9 C889.9 1276.1 892.0 1212.1 894.1 1213.0 C896.2 1213.8 898.3 1281.2 900.3 1282.2 C902.4 1283.3 904.5 1218.1 906.6 1219.2 C908.7 1220.3 910.7 1287.8 912.8 1288.8 C914.9 1289.9 917.0 1224.3 919.1 1225.4 C921.2 1226.6 923.2 1294.7 925.3 1295.7 C927.4 1296.6 929.5 1229.5 931.6 1231.2 C933.7 1232.8 935.7 1304.6 937.8 1305.6 C939.9 1306.6 942.0 1235.2 944.1 1237.0 C946.1 1238.7 948.2 1314.9 950.3 1315.9 C952.4 1317.0 954.5 1243.5 956.6 1243.2 C958.6 1242.9 960.7 1313.3 962.8 1314.3 C964.9 1315.3 967.0 1249.8 969.0 1249.4 C971.1 1249.0 973.2 1313.0 975.3 1311.9 C977.4 1310.8 979.5 1243.2 981.5 1242.8 C983.6 1242.5 985.7 1311.0 987.8 1309.7 C989.9 1308.4 993.0 1247.4 994.0 1235.0" stroke="#00f"/>
</g>
<rect x="178.4" y="881.4" width="819.1" height="533.1" fill="none" stroke="#000" stroke-width="1.5"/>
<line x1="173.8" y1="1414.5" x2="178.4" y2="1414.5" stroke="#000" stroke-width="1.3"/>
<text class="dj" x="0" y="0" font-size="25" text-anchor="end" transform="translate(168.2,1423.5) scale(1,1.000)">−0.5</text>
<line x1="173.8" y1="1338.3" x2="178.4" y2="1338.3" stroke="#000" stroke-width="1.3"/>
<text class="dj" x="0" y="0" font-size="25" text-anchor="end" transform="translate(168.2,1347.3) scale(1,1.000)">0</text>
<line x1="173.8" y1="1262.2" x2="178.4" y2="1262.2" stroke="#000" stroke-width="1.3"/>
<text class="dj" x="0" y="0" font-size="25" text-anchor="end" transform="translate(168.2,1271.2) scale(1,1.000)">0.5</text>
<line x1="173.8" y1="1186.0" x2="178.4" y2="1186.0" stroke="#000" stroke-width="1.3"/>
<text class="dj" x="0" y="0" font-size="25" text-anchor="end" transform="translate(168.2,1195.0) scale(1,1.000)">1</text>
<line x1="173.8" y1="1109.9" x2="178.4" y2="1109.9" stroke="#000" stroke-width="1.3"/>
<text class="dj" x="0" y="0" font-size="25" text-anchor="end" transform="translate(168.2,1118.9) scale(1,1.000)">1.5</text>
<line x1="173.8" y1="1033.7" x2="178.4" y2="1033.7" stroke="#000" stroke-width="1.3"/>
<text class="dj" x="0" y="0" font-size="25" text-anchor="end" transform="translate(168.2,1042.7) scale(1,1.000)">2</text>
<line x1="173.8" y1="957.6" x2="178.4" y2="957.6" stroke="#000" stroke-width="1.3"/>
<text class="dj" x="0" y="0" font-size="25" text-anchor="end" transform="translate(168.2,966.6) scale(1,1.000)">2.5</text>
<line x1="173.8" y1="881.4" x2="178.4" y2="881.4" stroke="#000" stroke-width="1.3"/>
<text class="dj" x="0" y="0" font-size="25" text-anchor="end" transform="translate(168.2,890.4) scale(1,1.000)">3</text>
<line x1="178.4" y1="1414.5" x2="178.4" y2="1419.1" stroke="#000" stroke-width="1.3"/>
<text class="dj" x="0" y="0" font-size="25" text-anchor="middle" transform="translate(177.8,1443.5) scale(1,1.07) scale(1,1.000)">Oct 03</text>
<line x1="299.1" y1="1414.5" x2="299.1" y2="1419.1" stroke="#000" stroke-width="1.3"/>
<text class="dj" x="0" y="0" font-size="25" text-anchor="middle" transform="translate(298.5,1443.5) scale(1,1.07) scale(1,1.000)">Oct 08</text>
<line x1="419.8" y1="1414.5" x2="419.8" y2="1419.1" stroke="#000" stroke-width="1.3"/>
<text class="dj" x="0" y="0" font-size="25" text-anchor="middle" transform="translate(419.2,1443.5) scale(1,1.07) scale(1,1.000)">Oct 13</text>
<line x1="540.5" y1="1414.5" x2="540.5" y2="1419.1" stroke="#000" stroke-width="1.3"/>
<text class="dj" x="0" y="0" font-size="25" text-anchor="middle" transform="translate(539.9,1443.5) scale(1,1.07) scale(1,1.000)">Oct 18</text>
<line x1="661.2" y1="1414.5" x2="661.2" y2="1419.1" stroke="#000" stroke-width="1.3"/>
<text class="dj" x="0" y="0" font-size="25" text-anchor="middle" transform="translate(660.6,1443.5) scale(1,1.07) scale(1,1.000)">Oct 23</text>
<line x1="781.9" y1="1414.5" x2="781.9" y2="1419.1" stroke="#000" stroke-width="1.3"/>
<text class="dj" x="0" y="0" font-size="25" text-anchor="middle" transform="translate(781.3,1443.5) scale(1,1.07) scale(1,1.000)">Oct 28</text>
<line x1="902.6" y1="1414.5" x2="902.6" y2="1419.1" stroke="#000" stroke-width="1.3"/>
<text class="dj" x="0" y="0" font-size="25" text-anchor="middle" transform="translate(902.0,1443.5) scale(1,1.07) scale(1,1.000)">Nov 02</text>
<text class="dj" x="0" y="0" font-size="25" text-anchor="middle" transform="translate(587.5,872.7) scale(1,1.000)">USGS 021108125</text>
<text class="dj" x="0" y="0" font-size="23" text-anchor="middle" transform="translate(117,1141.8) rotate(-90) scale(1,1.000)">Water level (m)</text>
<rect x="476.8" y="896.4" width="506" height="139.8" rx="6" ry="6" fill="#fff" fill-opacity="0.8" stroke="#cccccc" stroke-width="1.3"/>
<line x1="485" y1="920.5" x2="551.2" y2="920.5" stroke="#000" stroke-width="6.8"/>
<text class="dj" x="0" y="0" font-size="29.5" transform="translate(571.3,930.6) scale(1,1.000)">USGS obs</text>
<line x1="485" y1="964.3" x2="551.2" y2="964.3" stroke="#f00" stroke-width="6.8"/>
<text class="dj" x="0" y="0" font-size="29.5" transform="translate(571.3,974.4) scale(1,1.000)">NWM drive SCHISM (EXP1)</text>
<line x1="485" y1="1008.1" x2="551.2" y2="1008.1" stroke="#00f" stroke-width="6.8"/>
<text class="dj" x="0" y="0" font-size="29.5" transform="translate(571.3,1018.2) scale(1,1.000)">USGS drive SCHISM (EXP2)</text>
<text class="tr" x="0" y="0" font-size="62" fill="#0058e8" transform="translate(711.6,1110.6) scale(1,1.000)">NSE: 0.74</text>
<text class="tr" x="0" y="0" font-size="62" fill="#ff0000" transform="translate(397.8,1345.0) scale(1,1.000)">NSE: 0.32</text>
<rect x="58.5" y="1494.6" width="988.1" height="592.5" fill="#fff"/>
<clipPath id="pc2"><rect x="178.4" y="1524.4" width="819.1" height="533.1"/></clipPath>
<g clip-path="url(#pc2)" fill="none" stroke-width="6.8" stroke-linejoin="round" stroke-linecap="round">
<path d="M178.4 1879.8 C179.0 1868.6 180.4 1793.0 182.0 1812.8 C183.7 1832.6 186.2 1999.9 188.3 1998.6 C190.3 1997.4 192.4 1807.2 194.5 1805.2 C196.6 1803.2 198.7 1985.5 200.8 1986.4 C202.8 1987.3 204.9 1810.8 207.0 1810.4 C209.1 1810.1 211.2 1987.7 213.3 1984.5 C215.3 1981.3 217.4 1794.3 219.5 1791.0 C221.6 1787.8 223.7 1962.6 225.7 1965.1 C227.8 1967.6 229.9 1805.8 232.0 1806.1 C234.1 1806.3 236.2 1969.2 238.2 1966.9 C240.3 1964.5 242.4 1793.1 244.5 1791.9 C246.6 1790.7 248.6 1956.0 250.7 1959.8 C252.8 1963.6 254.9 1813.3 257.0 1814.7 C259.1 1816.1 261.1 1972.9 263.2 1968.1 C265.3 1963.4 267.4 1789.4 269.5 1786.3 C271.6 1783.1 273.6 1945.0 275.7 1949.1 C277.8 1953.2 280.1 1816.5 282.0 1810.9 C283.8 1805.2 285.1 1922.0 287.0 1915.3 C288.9 1908.7 291.0 1782.1 293.3 1771.0 C295.6 1760.0 298.4 1860.0 300.8 1848.9 C303.2 1837.8 305.9 1719.1 307.5 1704.6 C309.2 1690.0 309.0 1768.9 310.4 1761.6 C311.9 1754.4 314.1 1662.1 316.0 1661.1 C317.9 1660.0 319.8 1724.1 322.0 1755.4 C324.2 1786.7 326.8 1819.1 329.3 1848.9 C331.7 1878.7 334.5 1944.0 336.8 1934.2 C339.0 1924.4 340.5 1794.8 342.6 1790.1 C344.6 1785.3 347.1 1906.4 349.3 1905.7 C351.5 1905.1 353.8 1787.7 355.8 1786.2 C357.9 1784.6 359.4 1903.3 361.6 1896.3 C363.8 1889.4 366.8 1748.6 369.1 1744.4 C371.4 1740.2 373.4 1847.8 375.6 1870.9 C377.8 1894.0 379.2 1903.8 382.4 1883.0 C385.6 1862.2 391.5 1747.9 394.7 1746.3 C397.9 1744.8 399.6 1872.3 401.5 1873.6 C403.3 1874.9 404.0 1754.3 406.0 1754.0 C408.1 1753.7 411.7 1876.7 413.8 1871.6 C415.8 1866.6 416.3 1725.5 418.4 1723.6 C420.4 1721.7 424.0 1856.8 426.1 1860.3 C428.1 1863.7 428.8 1742.8 430.7 1744.4 C432.6 1746.0 435.1 1870.5 437.4 1869.7 C439.7 1868.8 442.2 1738.8 444.4 1739.4 C446.6 1740.1 448.5 1876.9 450.6 1873.6 C452.7 1870.4 454.8 1721.2 456.9 1720.0 C458.9 1718.7 461.0 1866.1 463.1 1866.1 C465.2 1866.1 467.3 1719.8 469.3 1719.9 C471.4 1720.1 473.5 1869.8 475.6 1867.0 C477.7 1864.2 479.8 1704.2 481.8 1703.1 C483.9 1701.9 486.0 1861.1 488.1 1860.2 C490.2 1859.3 492.3 1699.7 494.3 1697.8 C496.4 1695.9 498.5 1849.2 500.6 1848.8 C502.7 1848.4 504.7 1698.5 506.8 1695.4 C508.9 1692.2 511.0 1832.0 513.1 1829.9 C515.2 1827.8 517.2 1684.3 519.3 1682.7 C521.4 1681.1 523.5 1818.9 525.6 1820.4 C527.6 1822.0 529.7 1692.1 531.8 1692.2 C533.9 1692.2 536.0 1823.0 538.1 1820.8 C540.1 1818.6 542.2 1680.5 544.3 1678.9 C546.4 1677.2 548.5 1808.5 550.5 1810.8 C552.6 1813.1 554.7 1693.6 556.8 1692.4 C558.9 1691.3 561.0 1804.8 563.0 1804.1 C565.1 1803.3 567.2 1686.7 569.3 1688.0 C571.4 1689.2 573.5 1807.7 575.5 1811.4 C577.6 1815.1 579.7 1707.7 581.8 1710.1 C583.9 1712.5 585.9 1820.2 588.0 1825.6 C590.1 1831.0 592.2 1742.4 594.3 1742.5 C596.4 1742.7 598.4 1831.7 600.5 1826.5 C602.6 1821.3 604.7 1708.4 606.8 1711.3 C608.8 1714.3 610.9 1838.7 613.0 1844.4 C615.1 1850.0 617.2 1742.9 619.3 1745.3 C621.3 1747.6 623.4 1863.4 625.5 1858.6 C627.6 1853.7 629.7 1710.4 631.7 1716.0 C633.8 1721.6 635.9 1880.0 638.0 1892.3 C640.1 1904.7 642.2 1790.9 644.2 1790.3 C646.3 1789.8 648.4 1895.8 650.5 1889.0 C652.6 1882.1 654.7 1748.2 656.7 1749.3 C658.8 1750.4 660.9 1891.9 663.0 1895.7 C665.1 1899.5 667.1 1771.4 669.2 1772.4 C671.3 1773.4 673.4 1906.2 675.5 1901.9 C677.6 1897.6 679.6 1745.4 681.7 1746.5 C683.8 1747.6 685.9 1902.1 688.0 1908.4 C690.0 1914.6 692.1 1782.5 694.2 1784.0 C696.3 1785.5 698.4 1918.0 700.5 1917.6 C702.5 1917.2 704.6 1780.4 706.7 1781.8 C708.8 1783.2 710.9 1926.0 713.0 1926.0 C715.0 1926.1 717.1 1781.0 719.2 1782.1 C721.3 1783.1 723.4 1935.9 725.4 1932.5 C727.5 1929.0 729.6 1760.3 731.7 1761.3 C733.8 1762.3 735.9 1936.0 737.9 1938.6 C740.0 1941.1 742.1 1775.6 744.2 1776.5 C746.3 1777.4 748.3 1943.2 750.4 1944.1 C752.5 1945.0 754.6 1780.8 756.7 1781.9 C758.8 1783.1 760.8 1949.9 762.9 1950.9 C765.0 1951.9 767.1 1786.5 769.2 1787.9 C771.2 1789.3 773.3 1958.4 775.4 1959.5 C777.5 1960.6 779.6 1793.1 781.7 1794.6 C783.7 1796.2 785.8 1968.1 787.9 1968.9 C790.0 1969.7 792.1 1797.7 794.2 1799.4 C796.2 1801.0 798.3 1977.0 800.4 1978.8 C802.5 1980.7 804.6 1810.5 806.6 1810.4 C808.7 1810.3 810.8 1981.6 812.9 1978.4 C815.0 1975.2 817.1 1792.0 819.1 1791.2 C821.2 1790.4 823.3 1972.1 825.4 1973.8 C827.5 1975.4 829.5 1799.7 831.6 1801.2 C833.7 1802.8 835.8 1984.2 837.9 1983.2 C840.0 1982.2 842.0 1793.2 844.1 1795.2 C846.2 1797.2 848.3 1991.4 850.4 1995.4 C852.4 1999.4 854.5 1817.9 856.6 1819.3 C858.7 1820.7 860.8 2005.3 862.9 2003.8 C864.9 2002.2 867.0 1813.4 869.1 1809.9 C871.2 1806.4 873.3 1985.0 875.4 1982.7 C877.4 1980.4 879.5 1798.9 881.6 1796.1 C883.7 1793.4 885.8 1969.5 887.8 1966.0 C889.9 1962.5 892.0 1776.4 894.1 1775.2 C896.2 1774.1 898.3 1953.7 900.3 1959.2 C902.4 1964.6 904.5 1804.0 906.6 1808.0 C908.7 1812.1 910.7 1985.0 912.8 1983.4 C914.9 1981.9 917.0 1798.0 919.1 1798.9 C921.2 1799.8 923.2 1983.1 925.3 1989.0 C927.4 1995.0 929.5 1831.4 931.6 1834.3 C933.7 1837.2 935.7 2009.1 937.8 2006.4 C939.9 2003.6 942.0 1818.2 944.1 1817.7 C946.1 1817.2 948.2 1998.8 950.3 2003.3 C952.4 2007.9 954.5 1842.1 956.6 1844.9 C958.6 1847.8 960.7 2024.2 962.8 2020.7 C964.9 2017.1 967.0 1830.9 969.0 1823.7 C971.1 1816.5 973.2 1978.2 975.3 1977.5 C977.4 1976.7 979.5 1819.8 981.5 1819.3 C983.6 1818.8 985.7 1978.4 987.8 1974.4 C989.9 1970.4 993.0 1824.9 994.0 1795.0" stroke="#000"/>
<path d="M178.4 1862.0 C179.0 1857.1 180.4 1824.3 182.0 1832.7 C183.7 1841.1 186.2 1914.9 188.3 1912.4 C190.3 1909.8 192.4 1818.6 194.5 1817.3 C196.6 1816.0 198.7 1903.1 200.8 1904.6 C202.8 1906.1 204.9 1827.0 207.0 1826.4 C209.1 1825.8 211.2 1904.8 213.3 1901.1 C215.3 1897.3 217.4 1805.1 219.5 1804.0 C221.6 1802.8 223.7 1892.5 225.7 1894.0 C227.8 1895.5 229.9 1813.1 232.0 1812.8 C234.1 1812.5 236.2 1894.8 238.2 1892.2 C240.3 1889.7 242.4 1798.6 244.5 1797.4 C246.6 1796.2 248.6 1881.6 250.7 1885.2 C252.8 1888.8 254.9 1818.6 257.0 1819.2 C259.1 1819.7 261.1 1892.3 263.2 1888.3 C265.3 1884.3 267.4 1797.2 269.5 1795.2 C271.6 1793.2 274.0 1871.8 275.7 1876.3 C277.5 1880.8 278.4 1822.1 280.0 1822.2 C281.7 1822.4 283.5 1883.0 285.6 1877.3 C287.6 1871.6 289.8 1789.7 292.3 1788.1 C294.9 1786.5 298.4 1857.4 300.8 1867.9 C303.2 1878.3 305.0 1852.4 306.6 1850.8 C308.2 1849.2 308.7 1874.8 310.4 1858.3 C312.2 1841.8 314.8 1754.4 317.0 1752.0 C319.1 1749.7 321.0 1818.0 323.2 1844.3 C325.5 1870.5 328.3 1896.2 330.2 1909.7 C332.2 1923.1 333.0 1930.1 335.1 1924.8 C337.1 1919.4 340.1 1873.5 342.6 1877.3 C345.0 1881.1 347.6 1953.0 350.0 1947.5 C352.4 1942.0 354.0 1872.1 357.0 1844.3 C360.1 1816.4 365.2 1784.4 368.1 1780.5 C371.1 1776.5 372.7 1824.5 374.9 1820.4 C377.1 1816.4 379.2 1762.3 381.4 1755.9 C383.6 1749.6 386.1 1789.7 388.2 1782.4 C390.2 1775.1 391.7 1720.5 393.7 1712.2 C395.8 1704.0 398.4 1736.5 400.5 1733.0 C402.5 1729.5 403.8 1693.2 406.0 1691.3 C408.3 1689.4 411.7 1722.6 413.8 1721.6 C415.8 1720.7 416.3 1684.3 418.4 1685.6 C420.4 1686.8 423.9 1727.4 426.1 1729.3 C428.3 1731.2 429.5 1694.1 431.6 1696.9 C433.8 1699.8 437.0 1747.0 439.1 1746.3 C441.2 1745.7 442.4 1695.1 444.4 1692.9 C446.3 1690.7 448.5 1734.3 450.6 1733.0 C452.7 1731.7 454.8 1686.9 456.9 1685.1 C458.9 1683.3 461.0 1720.3 463.1 1722.1 C465.2 1724.0 467.3 1695.3 469.3 1696.4 C471.4 1697.6 473.5 1727.8 475.6 1729.2 C477.7 1730.6 479.8 1701.4 481.8 1704.9 C483.9 1708.3 486.0 1749.4 488.1 1750.1 C490.2 1750.8 492.3 1704.9 494.3 1709.1 C496.4 1713.2 498.5 1773.8 500.6 1775.0 C502.7 1776.3 504.7 1713.3 506.8 1716.6 C508.9 1719.8 511.0 1790.7 513.1 1794.6 C515.2 1798.5 517.2 1737.5 519.3 1739.8 C521.4 1742.2 523.5 1807.1 525.6 1808.6 C527.6 1810.1 529.7 1746.4 531.8 1749.0 C533.9 1751.6 536.0 1822.8 538.1 1824.3 C540.1 1825.8 542.2 1755.8 544.3 1758.2 C546.4 1760.6 548.5 1836.9 550.5 1838.5 C552.6 1840.0 554.7 1764.9 556.8 1767.4 C558.9 1769.9 561.0 1851.5 563.0 1853.4 C565.1 1855.3 567.2 1775.9 569.3 1778.9 C571.4 1782.0 573.5 1869.0 575.5 1871.5 C577.6 1874.1 579.7 1790.4 581.8 1794.4 C583.9 1798.4 585.9 1892.6 588.0 1895.5 C590.1 1898.4 592.2 1811.0 594.3 1811.8 C596.4 1812.6 598.4 1903.4 600.5 1900.3 C602.6 1897.2 604.7 1792.6 606.8 1793.2 C608.8 1793.8 610.9 1899.3 613.0 1903.9 C615.1 1908.6 617.2 1820.3 619.3 1821.0 C621.3 1821.6 623.4 1910.6 625.5 1907.9 C627.6 1905.1 629.7 1801.9 631.7 1804.2 C633.8 1806.6 635.9 1910.8 638.0 1922.1 C640.1 1933.5 642.2 1866.5 644.2 1872.2 C646.3 1877.8 648.4 1959.6 650.5 1956.0 C652.6 1952.5 654.7 1851.4 656.7 1851.1 C658.8 1850.9 660.9 1950.8 663.0 1954.6 C665.1 1958.4 667.1 1873.3 669.2 1874.0 C671.3 1874.8 673.4 1960.8 675.5 1959.3 C677.6 1957.7 679.6 1866.5 681.7 1865.0 C683.8 1863.5 685.9 1950.2 688.0 1950.3 C690.0 1950.3 692.1 1863.5 694.2 1865.3 C696.3 1867.1 698.4 1960.3 700.5 1961.0 C702.5 1961.8 704.6 1868.9 706.7 1869.9 C708.8 1870.9 710.9 1966.7 713.0 1967.3 C715.0 1967.8 717.1 1873.1 719.2 1873.1 C721.3 1873.0 723.4 1966.5 725.4 1966.9 C727.5 1967.4 729.6 1876.1 731.7 1875.8 C733.8 1875.6 735.9 1965.1 737.9 1965.5 C740.0 1965.8 742.1 1878.1 744.2 1877.8 C746.3 1877.5 748.3 1963.4 750.4 1963.7 C752.5 1964.0 754.6 1879.2 756.7 1879.6 C758.8 1880.1 760.8 1966.2 762.9 1966.3 C765.0 1966.3 767.1 1880.2 769.2 1879.8 C771.2 1879.4 773.3 1963.8 775.4 1963.8 C777.5 1963.8 779.6 1879.1 781.7 1879.8 C783.7 1880.5 785.8 1967.8 787.9 1968.1 C790.0 1968.4 792.1 1881.0 794.2 1881.6 C796.2 1882.2 798.3 1971.7 800.4 1972.0 C802.5 1972.3 804.6 1882.3 806.6 1883.4 C808.7 1884.5 810.8 1978.6 812.9 1978.6 C815.0 1978.6 817.1 1885.0 819.1 1883.4 C821.2 1881.7 823.3 1968.6 825.4 1968.7 C827.5 1968.7 829.5 1882.7 831.6 1883.7 C833.7 1884.7 835.8 1974.2 837.9 1974.7 C840.0 1975.1 842.0 1883.5 844.1 1886.4 C846.2 1889.3 848.3 1991.9 850.4 1992.1 C852.4 1992.3 854.5 1888.3 856.6 1887.8 C858.7 1887.4 860.8 1990.4 862.9 1989.6 C864.9 1988.8 867.0 1886.7 869.1 1883.2 C871.2 1879.8 873.3 1969.3 875.4 1968.9 C877.4 1968.5 879.5 1881.0 881.6 1881.0 C883.7 1880.9 885.8 1967.8 887.8 1968.6 C889.9 1969.4 892.0 1887.3 894.1 1885.6 C896.2 1883.8 898.3 1957.4 900.3 1958.2 C902.4 1959.0 904.5 1887.5 906.6 1890.2 C908.7 1892.8 910.7 1973.6 912.8 1974.3 C914.9 1975.1 917.0 1893.6 919.1 1894.7 C921.2 1895.9 923.2 1980.9 925.3 1981.3 C927.4 1981.8 929.5 1897.1 931.6 1897.6 C933.7 1898.1 935.7 1984.4 937.8 1984.4 C939.9 1984.4 942.0 1898.7 944.1 1897.6 C946.1 1896.5 948.2 1978.2 950.3 1977.9 C952.4 1977.5 954.5 1892.6 956.6 1895.5 C958.6 1898.4 960.7 1995.8 962.8 1995.1 C964.9 1994.3 967.0 1893.2 969.0 1890.9 C971.1 1888.5 973.2 1982.4 975.3 1981.0 C977.4 1979.6 979.5 1883.3 981.5 1882.7 C983.6 1882.1 985.7 1979.5 987.8 1977.5 C989.9 1975.6 993.0 1888.9 994.0 1871.2" stroke="#f00"/>
<path d="M178.4 1933.1 C179.0 1920.8 180.4 1848.3 182.0 1859.2 C183.7 1870.1 186.2 1999.5 188.3 1998.6 C190.3 1997.7 192.4 1855.9 194.5 1853.7 C196.6 1851.5 198.7 1984.0 200.8 1985.5 C202.8 1987.0 204.9 1862.9 207.0 1862.5 C209.1 1862.1 211.2 1986.4 213.3 1983.1 C215.3 1979.8 217.4 1846.0 219.5 1842.7 C221.6 1839.4 223.7 1961.9 225.7 1963.3 C227.8 1964.8 229.9 1851.2 232.0 1851.5 C234.1 1851.9 236.2 1967.8 238.2 1965.4 C240.3 1963.1 242.4 1838.3 244.5 1837.2 C246.6 1836.1 248.6 1955.5 250.7 1958.9 C252.8 1962.4 254.9 1856.5 257.0 1857.9 C259.1 1859.3 261.1 1970.8 263.2 1967.2 C265.3 1963.6 267.4 1839.5 269.5 1836.2 C271.6 1832.9 274.0 1944.2 275.7 1947.6 C277.5 1951.0 278.2 1857.2 280.0 1856.5 C281.8 1855.9 284.3 1949.2 286.5 1943.8 C288.8 1938.4 290.8 1826.4 293.3 1824.2 C295.8 1822.0 299.2 1923.8 301.8 1930.4 C304.3 1937.1 306.8 1871.6 308.5 1864.0 C310.2 1856.4 310.6 1901.1 312.1 1885.0 C313.7 1868.8 315.4 1753.4 317.9 1767.3 C320.5 1781.2 325.1 1942.2 327.3 1968.5 C329.6 1994.7 329.5 1920.0 331.2 1924.8 C332.9 1929.5 335.7 2003.9 337.7 1996.9 C339.8 1989.9 341.5 1891.5 343.5 1883.0 C345.6 1874.5 348.0 1949.2 350.0 1945.7 C352.1 1942.2 353.6 1866.8 355.8 1862.0 C358.0 1857.3 361.1 1926.3 363.3 1917.1 C365.5 1908.0 367.1 1811.5 369.1 1807.1 C371.2 1802.7 373.6 1890.6 375.6 1890.6 C377.7 1890.6 379.3 1808.7 381.4 1807.1 C383.5 1805.5 386.1 1885.5 388.2 1881.0 C390.2 1876.6 391.5 1783.9 393.7 1780.5 C395.9 1777.0 399.4 1860.3 401.5 1860.3 C403.5 1860.3 404.0 1782.0 406.0 1780.5 C408.1 1778.9 411.7 1854.0 413.8 1850.8 C415.8 1847.7 416.2 1763.6 418.4 1761.6 C420.5 1759.7 424.6 1839.9 426.8 1839.3 C429.0 1838.6 429.6 1759.3 431.6 1757.7 C433.7 1756.2 437.0 1826.0 439.1 1829.9 C441.2 1833.8 442.4 1776.6 444.4 1781.1 C446.3 1785.5 448.5 1859.4 450.6 1856.6 C452.7 1853.8 454.8 1765.9 456.9 1764.1 C458.9 1762.4 461.0 1846.4 463.1 1846.1 C465.2 1845.9 467.3 1764.6 469.3 1762.7 C471.4 1760.8 473.5 1837.0 475.6 1834.6 C477.7 1832.2 479.8 1750.4 481.8 1748.3 C483.9 1746.2 486.0 1824.8 488.1 1821.8 C490.2 1818.7 492.3 1732.7 494.3 1729.9 C496.4 1727.1 498.5 1807.9 500.6 1804.9 C502.7 1802.0 504.7 1714.7 506.8 1712.1 C508.9 1709.6 511.0 1791.8 513.1 1789.8 C515.2 1787.7 517.2 1701.5 519.3 1699.8 C521.4 1698.1 523.5 1780.0 525.6 1779.4 C527.6 1778.8 529.7 1697.0 531.8 1696.1 C533.9 1695.2 536.0 1775.1 538.1 1773.9 C540.1 1772.6 542.2 1689.5 544.3 1688.7 C546.4 1688.0 548.5 1768.8 550.5 1769.3 C552.6 1769.8 554.7 1691.1 556.8 1691.7 C558.9 1692.2 561.0 1771.1 563.0 1772.6 C565.1 1774.1 567.2 1696.6 569.3 1700.7 C571.4 1704.9 573.5 1794.0 575.5 1797.2 C577.6 1800.4 579.7 1715.4 581.8 1719.9 C583.9 1724.3 585.9 1819.1 588.0 1823.8 C590.1 1828.4 592.2 1749.5 594.3 1747.6 C596.4 1745.8 598.4 1815.6 600.5 1812.5 C602.6 1809.4 604.7 1728.4 606.8 1729.1 C608.8 1729.7 610.9 1811.1 613.0 1816.5 C615.1 1821.8 617.2 1758.5 619.3 1761.3 C621.3 1764.0 623.4 1835.2 625.5 1833.1 C627.6 1831.1 629.7 1746.1 631.7 1748.9 C633.8 1751.7 635.9 1840.0 638.0 1849.9 C640.1 1859.8 642.2 1805.2 644.2 1808.1 C646.3 1811.0 648.4 1869.7 650.5 1867.3 C652.6 1864.9 654.7 1792.5 656.7 1793.7 C658.8 1794.8 660.9 1869.7 663.0 1874.2 C665.1 1878.7 667.1 1819.7 669.2 1820.8 C671.3 1821.8 673.4 1884.5 675.5 1880.6 C677.6 1876.7 679.6 1796.3 681.7 1797.3 C683.8 1798.4 685.9 1882.2 688.0 1886.6 C690.0 1891.0 692.1 1821.6 694.2 1823.8 C696.3 1826.0 698.4 1899.9 700.5 1899.9 C702.5 1899.9 704.6 1822.7 706.7 1823.8 C708.8 1825.0 710.9 1904.3 713.0 1906.8 C715.0 1909.4 717.1 1838.3 719.2 1839.1 C721.3 1839.8 723.4 1914.2 725.4 1911.2 C727.5 1908.2 729.6 1820.5 731.7 1820.8 C733.8 1821.2 735.9 1913.2 737.9 1913.3 C740.0 1913.3 742.1 1820.4 744.2 1821.0 C746.3 1821.5 748.3 1916.3 750.4 1916.4 C752.5 1916.4 754.6 1820.7 756.7 1821.2 C758.8 1821.6 760.8 1918.8 762.9 1919.1 C765.0 1919.4 767.1 1824.6 769.2 1822.8 C771.2 1821.1 773.3 1907.9 775.4 1908.8 C777.5 1909.7 779.6 1826.3 781.7 1828.0 C783.7 1829.7 785.8 1918.5 787.9 1919.0 C790.0 1919.4 792.1 1825.8 794.2 1830.5 C796.2 1835.2 798.3 1943.5 800.4 1947.2 C802.5 1950.8 804.6 1852.0 806.6 1852.4 C808.7 1852.8 810.8 1953.1 812.9 1949.5 C815.0 1945.8 817.1 1830.5 819.1 1830.4 C821.2 1830.3 823.3 1946.5 825.4 1949.0 C827.5 1951.5 829.5 1843.7 831.6 1845.5 C833.7 1847.2 835.8 1960.9 837.9 1959.5 C840.0 1958.2 842.0 1835.8 844.1 1837.4 C846.2 1838.9 848.3 1965.2 850.4 1968.9 C852.4 1972.5 854.5 1860.0 856.6 1859.1 C858.7 1858.2 860.8 1965.1 862.9 1963.3 C864.9 1961.5 867.0 1849.6 869.1 1848.3 C871.2 1847.0 873.3 1955.3 875.4 1955.5 C877.4 1955.6 879.5 1850.4 881.6 1849.2 C883.7 1847.9 885.8 1951.9 887.8 1948.1 C889.9 1944.3 892.0 1824.8 894.1 1826.2 C896.2 1827.7 898.3 1952.3 900.3 1957.0 C902.4 1961.7 904.5 1853.3 906.6 1854.5 C908.7 1855.7 910.7 1966.1 912.8 1964.1 C914.9 1962.2 917.0 1841.1 919.1 1842.8 C921.2 1844.4 923.2 1969.4 925.3 1973.9 C927.4 1978.4 929.5 1869.3 931.6 1869.9 C933.7 1870.4 935.7 1979.3 937.8 1977.2 C939.9 1975.2 942.0 1854.5 944.1 1857.5 C946.1 1860.4 948.2 1990.4 950.3 1995.0 C952.4 1999.6 954.5 1885.8 956.6 1885.1 C958.6 1884.3 960.7 1992.9 962.8 1990.5 C964.9 1988.1 967.0 1872.0 969.0 1870.8 C971.1 1869.6 973.2 1982.6 975.3 1983.2 C977.4 1983.7 979.5 1874.7 981.5 1874.3 C983.6 1874.0 985.7 1985.5 987.8 1981.1 C989.9 1976.7 993.0 1870.3 994.0 1848.2" stroke="#00f"/>
</g>
<rect x="178.4" y="1524.4" width="819.1" height="533.1" fill="none" stroke="#000" stroke-width="1.5"/>
<line x1="173.8" y1="2057.5" x2="178.4" y2="2057.5" stroke="#000" stroke-width="1.3"/>
<text class="dj" x="0" y="0" font-size="25" text-anchor="end" transform="translate(168.2,2066.5) scale(1,1.000)">−0.5</text>
<line x1="173.8" y1="1968.7" x2="178.4" y2="1968.7" stroke="#000" stroke-width="1.3"/>
<text class="dj" x="0" y="0" font-size="25" text-anchor="end" transform="translate(168.2,1977.7) scale(1,1.000)">0</text>
<line x1="173.8" y1="1879.8" x2="178.4" y2="1879.8" stroke="#000" stroke-width="1.3"/>
<text class="dj" x="0" y="0" font-size="25" text-anchor="end" transform="translate(168.2,1888.8) scale(1,1.000)">0.5</text>
<line x1="173.8" y1="1791.0" x2="178.4" y2="1791.0" stroke="#000" stroke-width="1.3"/>
<text class="dj" x="0" y="0" font-size="25" text-anchor="end" transform="translate(168.2,1800.0) scale(1,1.000)">1</text>
<line x1="173.8" y1="1702.1" x2="178.4" y2="1702.1" stroke="#000" stroke-width="1.3"/>
<text class="dj" x="0" y="0" font-size="25" text-anchor="end" transform="translate(168.2,1711.1) scale(1,1.000)">1.5</text>
<line x1="173.8" y1="1613.2" x2="178.4" y2="1613.2" stroke="#000" stroke-width="1.3"/>
<text class="dj" x="0" y="0" font-size="25" text-anchor="end" transform="translate(168.2,1622.2) scale(1,1.000)">2</text>
<line x1="173.8" y1="1524.4" x2="178.4" y2="1524.4" stroke="#000" stroke-width="1.3"/>
<text class="dj" x="0" y="0" font-size="25" text-anchor="end" transform="translate(168.2,1533.4) scale(1,1.000)">2.5</text>
<line x1="178.4" y1="2057.5" x2="178.4" y2="2062.1" stroke="#000" stroke-width="1.3"/>
<text class="dj" x="0" y="0" font-size="25" text-anchor="middle" transform="translate(177.8,2086.5) scale(1,1.07) scale(1,1.000)">Oct 03</text>
<line x1="299.1" y1="2057.5" x2="299.1" y2="2062.1" stroke="#000" stroke-width="1.3"/>
<text class="dj" x="0" y="0" font-size="25" text-anchor="middle" transform="translate(298.5,2086.5) scale(1,1.07) scale(1,1.000)">Oct 08</text>
<line x1="419.8" y1="2057.5" x2="419.8" y2="2062.1" stroke="#000" stroke-width="1.3"/>
<text class="dj" x="0" y="0" font-size="25" text-anchor="middle" transform="translate(419.2,2086.5) scale(1,1.07) scale(1,1.000)">Oct 13</text>
<line x1="540.5" y1="2057.5" x2="540.5" y2="2062.1" stroke="#000" stroke-width="1.3"/>
<text class="dj" x="0" y="0" font-size="25" text-anchor="middle" transform="translate(539.9,2086.5) scale(1,1.07) scale(1,1.000)">Oct 18</text>
<line x1="661.2" y1="2057.5" x2="661.2" y2="2062.1" stroke="#000" stroke-width="1.3"/>
<text class="dj" x="0" y="0" font-size="25" text-anchor="middle" transform="translate(660.6,2086.5) scale(1,1.07) scale(1,1.000)">Oct 23</text>
<line x1="781.9" y1="2057.5" x2="781.9" y2="2062.1" stroke="#000" stroke-width="1.3"/>
<text class="dj" x="0" y="0" font-size="25" text-anchor="middle" transform="translate(781.3,2086.5) scale(1,1.07) scale(1,1.000)">Oct 28</text>
<line x1="902.6" y1="2057.5" x2="902.6" y2="2062.1" stroke="#000" stroke-width="1.3"/>
<text class="dj" x="0" y="0" font-size="25" text-anchor="middle" transform="translate(902.0,2086.5) scale(1,1.07) scale(1,1.000)">Nov 02</text>
<text class="dj" x="0" y="0" font-size="25" text-anchor="middle" transform="translate(587.5,1515.7) scale(1,1.000)">USGS 02110815</text>
<text class="dj" x="0" y="0" font-size="23" text-anchor="middle" transform="translate(117,1784.8) rotate(-90) scale(1,1.000)">Water level (m)</text>
<rect x="476.8" y="1539.4" width="506" height="139.8" rx="6" ry="6" fill="#fff" fill-opacity="0.8" stroke="#cccccc" stroke-width="1.3"/>
<line x1="485" y1="1563.5" x2="551.2" y2="1563.5" stroke="#000" stroke-width="6.8"/>
<text class="dj" x="0" y="0" font-size="29.5" transform="translate(571.3,1573.6) scale(1,1.000)">USGS obs</text>
<line x1="485" y1="1607.3" x2="551.2" y2="1607.3" stroke="#f00" stroke-width="6.8"/>
<text class="dj" x="0" y="0" font-size="29.5" transform="translate(571.3,1617.4) scale(1,1.000)">NWM drive SCHISM (EXP1)</text>
<line x1="485" y1="1651.1" x2="551.2" y2="1651.1" stroke="#00f" stroke-width="6.8"/>
<text class="dj" x="0" y="0" font-size="29.5" transform="translate(571.3,1661.2) scale(1,1.000)">USGS drive SCHISM (EXP2)</text>
<text class="tr" x="0" y="0" font-size="62" fill="#0058e8" transform="translate(687.3,1752.8) scale(1,1.000)">NSE: 0.70</text>
<text class="tr" x="0" y="0" font-size="62" fill="#ff0000" transform="translate(369.0,2016.0) scale(1,1.000)">NSE: 0.23</text>
</svg>
</body></html>
